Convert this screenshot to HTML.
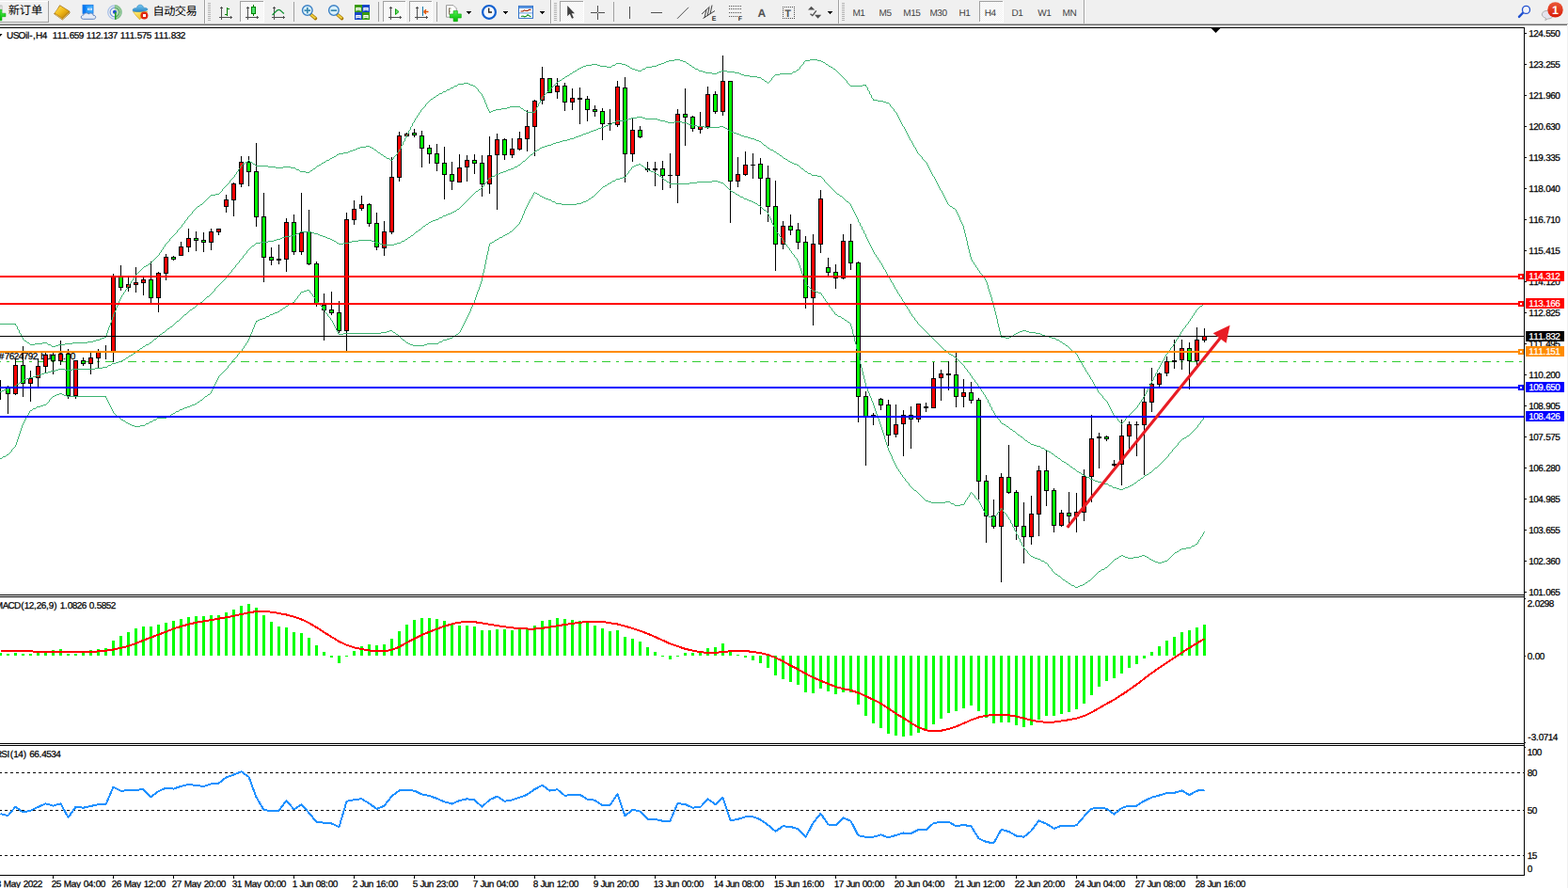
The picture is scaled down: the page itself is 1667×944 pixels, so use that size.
<!DOCTYPE html>
<html><head><meta charset="utf-8"><title>USOil H4</title>
<style>html,body{margin:0;padding:0;background:#fff;width:1667px;height:944px;overflow:hidden;font-family:"Liberation Sans",sans-serif}</style>
</head><body>
<svg width="1667" height="944" viewBox="0 0 1667 944" style="position:absolute;left:0;top:0;font-family:'Liberation Sans',sans-serif;text-rendering:geometricPrecision">
<rect x="0" y="0" width="1667" height="944" fill="#fff"/>
<g id="toolbar">
<defs>
<pattern id="chk" width="2" height="2" patternUnits="userSpaceOnUse"><rect width="2" height="2" fill="#f0f0f0"/><rect width="1" height="1" fill="#fff"/><rect x="1" y="1" width="1" height="1" fill="#fff"/></pattern>
<linearGradient id="gold" x1="0" y1="0" x2="1" y2="1"><stop offset="0" stop-color="#ffe45a"/><stop offset="0.5" stop-color="#f0b818"/><stop offset="1" stop-color="#b87808"/></linearGradient>
<linearGradient id="gplus" x1="0" y1="0" x2="0" y2="1"><stop offset="0" stop-color="#50f050"/><stop offset="1" stop-color="#00b800"/></linearGradient>
<linearGradient id="redb" x1="0" y1="0" x2="0" y2="1"><stop offset="0" stop-color="#ea5838"/><stop offset="1" stop-color="#d81c08"/></linearGradient>
<linearGradient id="bluebox" x1="0" y1="0" x2="1" y2="0"><stop offset="0" stop-color="#1088f8"/><stop offset="1" stop-color="#40b0ff"/></linearGradient>
<linearGradient id="hat" x1="0" y1="0" x2="0" y2="1"><stop offset="0" stop-color="#78c8f0"/><stop offset="1" stop-color="#2888c8"/></linearGradient>
<linearGradient id="yel" x1="0" y1="0" x2="1" y2="1"><stop offset="0" stop-color="#fff080"/><stop offset="1" stop-color="#e8b010"/></linearGradient>
<linearGradient id="cndl" x1="0" y1="0" x2="1" y2="0"><stop offset="0" stop-color="#20c040"/><stop offset="0.5" stop-color="#70f090"/><stop offset="1" stop-color="#20c040"/></linearGradient>
</defs>
<rect x="0" y="0" width="1667" height="25" fill="#f0f0f0"/>
<rect x="0" y="25" width="1667" height="1" fill="#b2b2b2"/>
<rect x="0" y="26" width="1666" height="1" fill="#696969"/>
<g shape-rendering="crispEdges">
<rect x="0" y="1" width="51" height="1" fill="#fff"/>
<rect x="51" y="1" width="1" height="23" fill="#a0a0a0"/>
<rect x="0" y="23" width="52" height="1" fill="#a0a0a0"/>
<rect x="217" y="0" width="1" height="25" fill="#a0a0a0"/>
<rect x="218" y="0" width="1" height="25" fill="#fff"/>
<rect x="221" y="3" width="3" height="1" fill="#b4b4b4"/>
<rect x="221" y="5" width="3" height="1" fill="#b4b4b4"/>
<rect x="221" y="7" width="3" height="1" fill="#b4b4b4"/>
<rect x="221" y="9" width="3" height="1" fill="#b4b4b4"/>
<rect x="221" y="11" width="3" height="1" fill="#b4b4b4"/>
<rect x="221" y="13" width="3" height="1" fill="#b4b4b4"/>
<rect x="221" y="15" width="3" height="1" fill="#b4b4b4"/>
<rect x="221" y="17" width="3" height="1" fill="#b4b4b4"/>
<rect x="221" y="19" width="3" height="1" fill="#b4b4b4"/>
<rect x="221" y="21" width="3" height="1" fill="#b4b4b4"/>
<rect x="312" y="2" width="1" height="21" fill="#a0a0a0"/>
<rect x="402" y="2" width="1" height="21" fill="#a0a0a0"/>
<rect x="464" y="2" width="1" height="21" fill="#a0a0a0"/>
<rect x="585" y="0" width="1" height="25" fill="#a0a0a0"/>
<rect x="586" y="0" width="1" height="25" fill="#fff"/>
<rect x="589" y="3" width="3" height="1" fill="#b4b4b4"/>
<rect x="589" y="5" width="3" height="1" fill="#b4b4b4"/>
<rect x="589" y="7" width="3" height="1" fill="#b4b4b4"/>
<rect x="589" y="9" width="3" height="1" fill="#b4b4b4"/>
<rect x="589" y="11" width="3" height="1" fill="#b4b4b4"/>
<rect x="589" y="13" width="3" height="1" fill="#b4b4b4"/>
<rect x="589" y="15" width="3" height="1" fill="#b4b4b4"/>
<rect x="589" y="17" width="3" height="1" fill="#b4b4b4"/>
<rect x="589" y="19" width="3" height="1" fill="#b4b4b4"/>
<rect x="589" y="21" width="3" height="1" fill="#b4b4b4"/>
<rect x="652" y="2" width="1" height="21" fill="#a0a0a0"/>
<rect x="891" y="0" width="1" height="25" fill="#a0a0a0"/>
<rect x="892" y="0" width="1" height="25" fill="#fff"/>
<rect x="895" y="3" width="3" height="1" fill="#b4b4b4"/>
<rect x="895" y="5" width="3" height="1" fill="#b4b4b4"/>
<rect x="895" y="7" width="3" height="1" fill="#b4b4b4"/>
<rect x="895" y="9" width="3" height="1" fill="#b4b4b4"/>
<rect x="895" y="11" width="3" height="1" fill="#b4b4b4"/>
<rect x="895" y="13" width="3" height="1" fill="#b4b4b4"/>
<rect x="895" y="15" width="3" height="1" fill="#b4b4b4"/>
<rect x="895" y="17" width="3" height="1" fill="#b4b4b4"/>
<rect x="895" y="19" width="3" height="1" fill="#b4b4b4"/>
<rect x="895" y="21" width="3" height="1" fill="#b4b4b4"/>
<rect x="1152" y="0" width="1" height="25" fill="#a0a0a0"/>
<rect x="1153" y="0" width="1" height="25" fill="#fff"/>
<rect x="255" y="1" width="26" height="23" fill="url(#chk)"/>
<rect x="255" y="1" width="26" height="1" fill="#a0a0a0"/>
<rect x="255" y="1" width="1" height="23" fill="#a0a0a0"/>
<rect x="255" y="23" width="26" height="1" fill="#fff"/>
<rect x="280" y="1" width="1" height="23" fill="#fff"/>
<rect x="407" y="1" width="25" height="23" fill="url(#chk)"/>
<rect x="407" y="1" width="25" height="1" fill="#a0a0a0"/>
<rect x="407" y="1" width="1" height="23" fill="#a0a0a0"/>
<rect x="407" y="23" width="25" height="1" fill="#fff"/>
<rect x="431" y="1" width="1" height="23" fill="#fff"/>
<rect x="435" y="1" width="25" height="23" fill="url(#chk)"/>
<rect x="435" y="1" width="25" height="1" fill="#a0a0a0"/>
<rect x="435" y="1" width="1" height="23" fill="#a0a0a0"/>
<rect x="435" y="23" width="25" height="1" fill="#fff"/>
<rect x="459" y="1" width="1" height="23" fill="#fff"/>
<rect x="595" y="1" width="26" height="23" fill="url(#chk)"/>
<rect x="595" y="1" width="26" height="1" fill="#a0a0a0"/>
<rect x="595" y="1" width="1" height="23" fill="#a0a0a0"/>
<rect x="595" y="23" width="26" height="1" fill="#fff"/>
<rect x="620" y="1" width="1" height="23" fill="#fff"/>
<rect x="1041" y="1" width="26" height="23" fill="url(#chk)"/>
<rect x="1041" y="1" width="26" height="1" fill="#a0a0a0"/>
<rect x="1041" y="1" width="1" height="23" fill="#a0a0a0"/>
<rect x="1041" y="23" width="26" height="1" fill="#fff"/>
<rect x="1066" y="1" width="1" height="23" fill="#fff"/>
<rect x="496" y="12" width="5" height="1" fill="#000"/><rect x="497" y="13" width="3" height="1" fill="#000"/><rect x="498" y="14" width="1" height="1" fill="#000"/>
<rect x="535" y="12" width="5" height="1" fill="#000"/><rect x="536" y="13" width="3" height="1" fill="#000"/><rect x="537" y="14" width="1" height="1" fill="#000"/>
<rect x="574" y="12" width="5" height="1" fill="#000"/><rect x="575" y="13" width="3" height="1" fill="#000"/><rect x="576" y="14" width="1" height="1" fill="#000"/>
<rect x="880" y="12" width="5" height="1" fill="#000"/><rect x="881" y="13" width="3" height="1" fill="#000"/><rect x="882" y="14" width="1" height="1" fill="#000"/>
<rect x="235" y="7" width="1" height="14" fill="#505050"/>
<rect x="234" y="8" width="3" height="1" fill="#505050"/>
<rect x="233" y="18" width="14" height="1" fill="#505050"/>
<rect x="245" y="17" width="1" height="3" fill="#505050"/>
<rect x="263" y="7" width="1" height="14" fill="#505050"/>
<rect x="262" y="8" width="3" height="1" fill="#505050"/>
<rect x="261" y="18" width="14" height="1" fill="#505050"/>
<rect x="273" y="17" width="1" height="3" fill="#505050"/>
<rect x="291" y="7" width="1" height="14" fill="#505050"/>
<rect x="290" y="8" width="3" height="1" fill="#505050"/>
<rect x="289" y="18" width="14" height="1" fill="#505050"/>
<rect x="301" y="17" width="1" height="3" fill="#505050"/>
<rect x="415" y="7" width="1" height="14" fill="#505050"/>
<rect x="414" y="8" width="3" height="1" fill="#505050"/>
<rect x="413" y="18" width="14" height="1" fill="#505050"/>
<rect x="425" y="17" width="1" height="3" fill="#505050"/>
<rect x="443" y="7" width="1" height="14" fill="#505050"/>
<rect x="442" y="8" width="3" height="1" fill="#505050"/>
<rect x="441" y="18" width="14" height="1" fill="#505050"/>
<rect x="453" y="17" width="1" height="3" fill="#505050"/>
<rect x="241" y="8" width="1" height="9" fill="#008000"/><rect x="241" y="9" width="3" height="1" fill="#008000"/><rect x="239" y="15" width="3" height="1" fill="#008000"/>
<rect x="269" y="5" width="1" height="12" fill="#008000"/><rect x="267" y="7" width="5" height="8" fill="#008000"/><rect x="268" y="8" width="3" height="6" fill="#50e070"/>
<rect x="449" y="7" width="1" height="10" fill="#1878a8"/>
<rect x="669" y="7" width="1" height="13" fill="#505050"/>
<rect x="692" y="13" width="12" height="1" fill="#505050"/>
<rect x="635" y="6" width="1" height="15" fill="#505050"/><rect x="628" y="13" width="15" height="1" fill="#505050"/><rect x="635" y="13" width="1" height="1" fill="#f0f0f0"/>
<rect x="775" y="6" width="1" height="1" fill="#505050"/>
<rect x="777" y="6" width="1" height="1" fill="#505050"/>
<rect x="779" y="6" width="1" height="1" fill="#505050"/>
<rect x="781" y="6" width="1" height="1" fill="#505050"/>
<rect x="783" y="6" width="1" height="1" fill="#505050"/>
<rect x="785" y="6" width="1" height="1" fill="#505050"/>
<rect x="787" y="6" width="1" height="1" fill="#505050"/>
<rect x="775" y="9" width="1" height="1" fill="#505050"/>
<rect x="777" y="9" width="1" height="1" fill="#505050"/>
<rect x="779" y="9" width="1" height="1" fill="#505050"/>
<rect x="781" y="9" width="1" height="1" fill="#505050"/>
<rect x="783" y="9" width="1" height="1" fill="#505050"/>
<rect x="785" y="9" width="1" height="1" fill="#505050"/>
<rect x="787" y="9" width="1" height="1" fill="#505050"/>
<rect x="775" y="13" width="1" height="1" fill="#505050"/>
<rect x="777" y="13" width="1" height="1" fill="#505050"/>
<rect x="779" y="13" width="1" height="1" fill="#505050"/>
<rect x="781" y="13" width="1" height="1" fill="#505050"/>
<rect x="783" y="13" width="1" height="1" fill="#505050"/>
<rect x="785" y="13" width="1" height="1" fill="#505050"/>
<rect x="787" y="13" width="1" height="1" fill="#505050"/>
<rect x="775" y="17" width="1" height="1" fill="#505050"/>
<rect x="777" y="17" width="1" height="1" fill="#505050"/>
<rect x="779" y="17" width="1" height="1" fill="#505050"/>
<rect x="781" y="17" width="1" height="1" fill="#505050"/>
<rect x="783" y="17" width="1" height="1" fill="#505050"/>
<rect x="832" y="7" width="1" height="1" fill="#505050"/><rect x="832" y="19" width="1" height="1" fill="#505050"/>
<rect x="834" y="7" width="1" height="1" fill="#505050"/><rect x="834" y="19" width="1" height="1" fill="#505050"/>
<rect x="836" y="7" width="1" height="1" fill="#505050"/><rect x="836" y="19" width="1" height="1" fill="#505050"/>
<rect x="838" y="7" width="1" height="1" fill="#505050"/><rect x="838" y="19" width="1" height="1" fill="#505050"/>
<rect x="840" y="7" width="1" height="1" fill="#505050"/><rect x="840" y="19" width="1" height="1" fill="#505050"/>
<rect x="842" y="7" width="1" height="1" fill="#505050"/><rect x="842" y="19" width="1" height="1" fill="#505050"/>
<rect x="844" y="7" width="1" height="1" fill="#505050"/><rect x="844" y="19" width="1" height="1" fill="#505050"/>
<rect x="832" y="7" width="1" height="1" fill="#505050"/><rect x="844" y="7" width="1" height="1" fill="#505050"/>
<rect x="832" y="9" width="1" height="1" fill="#505050"/><rect x="844" y="9" width="1" height="1" fill="#505050"/>
<rect x="832" y="11" width="1" height="1" fill="#505050"/><rect x="844" y="11" width="1" height="1" fill="#505050"/>
<rect x="832" y="13" width="1" height="1" fill="#505050"/><rect x="844" y="13" width="1" height="1" fill="#505050"/>
<rect x="832" y="15" width="1" height="1" fill="#505050"/><rect x="844" y="15" width="1" height="1" fill="#505050"/>
<rect x="832" y="17" width="1" height="1" fill="#505050"/><rect x="844" y="17" width="1" height="1" fill="#505050"/>
<rect x="832" y="19" width="1" height="1" fill="#505050"/><rect x="844" y="19" width="1" height="1" fill="#505050"/>
</g>
<path d="M289.5,16 C292,14 294,10.3 296.5,10.3 C298.5,10.3 300,13.5 302,14.3" fill="none" stroke="#109030" stroke-width="1.3"/>
<polygon points="420.5,9.5 420.5,15.5 424,12.5" fill="#70e070" stroke="#10a010" stroke-width="1"/>
<path d="M450.5,12.5 L455.5,12.5 M450.5,12.5 L453,10.3 M450.5,12.5 L453,14.7" stroke="#e05000" stroke-width="1.3" fill="none"/>
<line x1="720" y1="19.8" x2="732" y2="7.8" stroke="#505050" stroke-width="1"/>
<g stroke="#404040" stroke-width="1" fill="none"><line x1="746" y1="15" x2="754.5" y2="7"/><line x1="747.5" y1="19.5" x2="760" y2="11.5"/><line x1="749" y1="19" x2="751" y2="10"/><line x1="752" y1="17" x2="754" y2="8"/><line x1="755" y1="15" x2="757" y2="5.5"/></g>
<text x="756.8" y="22" font-size="7" font-weight="bold" fill="#303030">E</text>
<text x="784.8" y="22" font-size="7" font-weight="bold" fill="#303030">F</text>
<text x="805.5" y="18" font-size="12" font-weight="bold" fill="#555">A</text>
<text x="834.2" y="18" font-size="11" font-weight="bold" fill="#555">T</text>
<polygon points="862.5,6.8 866.3,10.6 859,10.6" fill="#505050"/><polygon points="866,15.8 873.2,15.8 869.6,19.8" fill="#505050"/><path d="M861.5,14.7 L863.8,16.6 L867.8,11.4" stroke="#505050" stroke-width="1.4" fill="none"/>
<path d="M603.2,6 L603.2,17.2 L605.8,14.8 L608,19.8 L609.9,19 L607.7,14.2 L611,14.2 Z" fill="#404040"/>
<text x="906.5" y="17" font-size="10" fill="#404040" letter-spacing="-0.5">M1</text>
<text x="934.6" y="17" font-size="10" fill="#404040" letter-spacing="-0.5">M5</text>
<text x="960.3" y="17" font-size="10" fill="#404040" letter-spacing="-0.5">M15</text>
<text x="988.5" y="17" font-size="10" fill="#404040" letter-spacing="-0.5">M30</text>
<text x="1019.5" y="17" font-size="10" fill="#404040" letter-spacing="-0.5">H1</text>
<text x="1046.8" y="17" font-size="10" fill="#404040" letter-spacing="-0.5">H4</text>
<text x="1075.6" y="17" font-size="10" fill="#404040" letter-spacing="-0.5">D1</text>
<text x="1103.2" y="17" font-size="10" fill="#404040" letter-spacing="-0.5">W1</text>
<text x="1129.6" y="17" font-size="10" fill="#404040" letter-spacing="-0.5">MN</text>
<rect x="0" y="6" width="2" height="5" fill="#fff" stroke="#909090" stroke-width="0.6"/>
<path d="M0,10.3 H2 V14.2 H6 V17.7 H2 V21.8 H0 Z" fill="url(#gplus)" stroke="#00a000" stroke-width="0.5"/>
<path d="M63.6,5.7 L73.8,12 L74.1,13.9 L66.4,21 L57.6,14.7 Q60.6,11 63.6,5.7 Z" fill="#b8820c" stroke="#9a6408" stroke-width="0.7" stroke-linejoin="round"/>
<path d="M58.4,15 L66.4,20.4 L73.7,13.4" fill="none" stroke="#e8cf90" stroke-width="0.8"/>
<path d="M63.8,6.3 L73.3,12 L66.2,18.9 L58.3,13.7 Q61,10.6 63.8,6.3 Z" fill="url(#gold)"/>
<rect x="88" y="5.3" width="11" height="9" fill="url(#bluebox)" stroke="#1070e0" stroke-width="0.8"/>
<polygon points="88,5.3 91.3,6.6 91.3,14.3 88,14.3" fill="#0a78f0"/><rect x="93" y="8.6" width="5" height="2.2" fill="#e8f4ff"/><rect x="93.8" y="9.4" width="3.4" height="0.8" fill="#70b0f0"/>
<path d="M88.5,20.3 C85.5,20.3 85.5,16 88.8,16 C89.2,13.6 93,13 94.2,15 C96,13.2 99,14 99,16.2 C102.5,16 102.5,20.3 99.5,20.3 Z" fill="#e6ecf6" stroke="#5078b8" stroke-width="0.9"/>
<g fill="none"><circle cx="121.9" cy="13" r="7.2" stroke="#a8c0e8" stroke-width="1.2"/><circle cx="121.9" cy="13" r="4.8" stroke="#7098e0" stroke-width="1.2"/><path d="M121.9,5.8 A7.2,7.2 0 0 1 123,20.1" stroke="#90c890" stroke-width="1.4"/><path d="M121.9,8.2 A4.8,4.8 0 0 1 123,17.7" stroke="#70b870" stroke-width="1.4"/></g>
<path d="M121.9,13 L121.9,5.8 A7.2,7.2 0 0 1 122.9,20.1 Z" fill="#58b058" opacity="0.35"/>
<circle cx="121.9" cy="12.8" r="2" fill="#2050d0"/><rect x="122" y="13" width="1.5" height="7.8" fill="#20a020"/>
<polygon points="141.5,12.5 156.8,12.5 152,17 148.5,20.8 145,17" fill="url(#yel)" stroke="#d0a010" stroke-width="0.6"/>
<path d="M141,11 C141,8.5 144.5,8.6 145.5,8.4 C146,4 152,4 152.5,8.2 C154,8.2 157,8.5 157,10 C157,12.5 141,13.5 141,11 Z" fill="url(#hat)" stroke="#3088c0" stroke-width="0.6"/>
<circle cx="153.4" cy="16.5" r="4" fill="#e02810"/><rect x="152" y="15" width="3" height="3" fill="#fff"/>
<line x1="330.6" y1="15.5" x2="335.40000000000003" y2="19.6" stroke="#a87800" stroke-width="3.6" stroke-linecap="round"/>
<line x1="330.6" y1="15.5" x2="335.40000000000003" y2="19.6" stroke="#f0d040" stroke-width="2"/>
<circle cx="326.8" cy="11.1" r="5.3" fill="#d8f0fb" stroke="#3a7fc4" stroke-width="1.4"/>
<rect x="323.6" y="10.3" width="6.4" height="1.7" fill="#3a88b0"/>
<rect x="325.95" y="7.9" width="1.7" height="6.4" fill="#3a88b0"/>
<line x1="358.7" y1="15.5" x2="363.5" y2="19.6" stroke="#a87800" stroke-width="3.6" stroke-linecap="round"/>
<line x1="358.7" y1="15.5" x2="363.5" y2="19.6" stroke="#f0d040" stroke-width="2"/>
<circle cx="354.9" cy="11.1" r="5.3" fill="#d8f0fb" stroke="#3a7fc4" stroke-width="1.4"/>
<rect x="351.7" y="10.3" width="6.4" height="1.7" fill="#3a88b0"/>
<rect x="377" y="5" width="8" height="8" fill="#3a9a10"/>
<rect x="378.3" y="8" width="5.4" height="3.6" fill="#fff"/><rect x="379.3" y="9.2" width="3.4" height="1" fill="#3a9a10" opacity="0.55"/><rect x="379.3" y="11" width="3.4" height="1" fill="#3a9a10"/>
<rect x="385" y="5" width="8" height="8" fill="#1848c8"/>
<rect x="386.3" y="8" width="5.4" height="3.6" fill="#fff"/><rect x="387.3" y="9.2" width="3.4" height="1" fill="#1848c8" opacity="0.55"/><rect x="387.3" y="11" width="3.4" height="1" fill="#1848c8"/>
<rect x="377" y="13" width="8" height="8" fill="#1848c8"/>
<rect x="378.3" y="16" width="5.4" height="3.6" fill="#fff"/><rect x="379.3" y="17.2" width="3.4" height="1" fill="#1848c8" opacity="0.55"/><rect x="379.3" y="19" width="3.4" height="1" fill="#1848c8"/>
<rect x="385" y="13" width="8" height="8" fill="#3a9a10"/>
<rect x="386.3" y="16" width="5.4" height="3.6" fill="#fff"/><rect x="387.3" y="17.2" width="3.4" height="1" fill="#3a9a10" opacity="0.55"/><rect x="387.3" y="19" width="3.4" height="1" fill="#3a9a10"/>
<path d="M474.5,5.6 H482 L485.2,8.8 V18.2 H474.5 Z" fill="#fff" stroke="#909090" stroke-width="0.9"/>
<path d="M477.5,8.5 V15.5 M477.5,9 H479.5 M477.5,12 H479" stroke="#605030" stroke-width="0.8" fill="none"/>
<path d="M482.1,11.6 H486.4 V14.9 H490.3 V19 H486.4 V22.7 H482.1 V19 H478.3 V14.9 H482.1 Z" fill="url(#gplus)" stroke="#00a000" stroke-width="0.6"/>
<circle cx="520" cy="12.9" r="6.9" fill="#f4f8ff" stroke="#1060d0" stroke-width="2.2"/>
<path d="M519.7,8.5 V13 H523" stroke="#202020" stroke-width="1.3" fill="none"/>
<rect x="551.5" y="6.4" width="15" height="13" fill="#fff" stroke="#3070c8" stroke-width="1"/>
<rect x="552" y="6.9" width="14" height="2" fill="#5090e0"/><rect x="552" y="13.4" width="14" height="1" fill="#6098e0"/>
<polyline points="553.5,12 556,12 557.5,10.8 559,11.5 561,11.5 562.5,10.4 564.5,10.4" fill="none" stroke="#a02000" stroke-width="1.1"/>
<polyline points="554,17.5 556,17 557.5,17.8 559.5,17.3 561,15.8 562.5,16.8 564.5,17.8" fill="none" stroke="#109020" stroke-width="1.1"/>
<line x1="1619.2" y1="13.5" x2="1615" y2="17.9" stroke="#2050d0" stroke-width="2.4" stroke-linecap="round"/>
<circle cx="1622.5" cy="10.4" r="4" fill="#f4f4f8" stroke="#2050d0" stroke-width="1.3"/>
<path d="M1642.8,21.5 L1643.6,19.4 C1637,17.5 1638.5,11.3 1645.4,11.3 C1652.5,11.3 1653.8,19.8 1645.5,20 Z" fill="#e4e4ee" stroke="#a8a8a8" stroke-width="0.9"/>
<circle cx="1653.5" cy="10.4" r="8.2" fill="url(#redb)"/>
<text x="1650" y="15" font-size="12.5" font-weight="bold" fill="#fff">1</text>
<text x="8.7 20.8 32.9" y="15.3" font-size="12.2" fill="#000" font-family="'Liberation Sans','Noto Sans CJK SC',sans-serif">新订单</text>
<text x="162.5 174.15 185.8 197.45" y="16.1" font-size="12.2" fill="#000" font-family="'Liberation Sans','Noto Sans CJK SC',sans-serif">自动交易</text>
</g>
<g shape-rendering="crispEdges">
<rect x="0" y="29" width="1621" height="1" fill="#000"/>
<rect x="1620" y="29" width="1" height="902" fill="#000"/>
<rect x="0" y="632" width="1621" height="1" fill="#000"/>
<rect x="0" y="634" width="1621" height="1" fill="#000"/>
<rect x="0" y="790" width="1621" height="1" fill="#000"/>
<rect x="0" y="792" width="1621" height="1" fill="#000"/>
<rect x="0" y="930" width="1621" height="1" fill="#000"/>
<rect x="1666" y="27" width="1" height="917" fill="#f0f0f0"/>
</g>
<defs><clipPath id="cm"><rect x="0" y="30" width="1620" height="602"/></clipPath></defs>
<g clip-path="url(#cm)">
<line x1="0" y1="384.5" x2="1620" y2="384.5" stroke="#32cd32" stroke-width="1" stroke-dasharray="9,6,3,6" stroke-dashoffset="8" shape-rendering="crispEdges"/>
<text x="-1.28 4.72 9.72 14.72 19.72 24.72 29.72 34.72 40.11 43.22 48.72 54.00 59.11 61.72 67.11 69.72 74.72" y="382" font-size="10" fill="#000" stroke="#000" stroke-width="0.25" xml:space="preserve">#7624792 buy 0.30</text>
<g shape-rendering="crispEdges">
<rect x="0" y="404" width="1" height="21" fill="#000"/>
<rect x="8" y="410" width="1" height="30" fill="#000"/>
<rect x="6" y="413" width="5" height="6" fill="#000"/>
<rect x="7" y="414" width="3" height="4" fill="#00ff00"/>
<rect x="16" y="382" width="1" height="38" fill="#000"/>
<rect x="14" y="388" width="5" height="31" fill="#000"/>
<rect x="15" y="389" width="3" height="29" fill="#ff0000"/>
<rect x="24" y="368" width="1" height="54" fill="#000"/>
<rect x="22" y="388" width="5" height="20" fill="#000"/>
<rect x="23" y="389" width="3" height="18" fill="#00ff00"/>
<rect x="32" y="394" width="1" height="33" fill="#000"/>
<rect x="30" y="402" width="5" height="6" fill="#000"/>
<rect x="31" y="403" width="3" height="4" fill="#ff0000"/>
<rect x="40" y="381" width="1" height="30" fill="#000"/>
<rect x="38" y="389" width="5" height="13" fill="#000"/>
<rect x="39" y="390" width="3" height="11" fill="#ff0000"/>
<rect x="48" y="375" width="1" height="22" fill="#000"/>
<rect x="46" y="377" width="5" height="13" fill="#000"/>
<rect x="47" y="378" width="3" height="11" fill="#ff0000"/>
<rect x="56" y="375" width="1" height="23" fill="#000"/>
<rect x="54" y="377" width="5" height="7" fill="#000"/>
<rect x="55" y="378" width="3" height="5" fill="#00ff00"/>
<rect x="64" y="362" width="1" height="26" fill="#000"/>
<rect x="62" y="376" width="5" height="8" fill="#000"/>
<rect x="63" y="377" width="3" height="6" fill="#ff0000"/>
<rect x="72" y="371" width="1" height="53" fill="#000"/>
<rect x="70" y="376" width="5" height="45" fill="#000"/>
<rect x="71" y="377" width="3" height="43" fill="#00ff00"/>
<rect x="80" y="383" width="1" height="41" fill="#000"/>
<rect x="78" y="383" width="5" height="38" fill="#000"/>
<rect x="79" y="384" width="3" height="36" fill="#ff0000"/>
<rect x="88" y="380" width="1" height="9" fill="#000"/>
<rect x="86" y="383" width="5" height="4" fill="#000"/>
<rect x="87" y="384" width="3" height="2" fill="#00ff00"/>
<rect x="96" y="375" width="1" height="23" fill="#000"/>
<rect x="94" y="380" width="5" height="7" fill="#000"/>
<rect x="95" y="381" width="3" height="5" fill="#ff0000"/>
<rect x="104" y="371" width="1" height="20" fill="#000"/>
<rect x="102" y="374" width="5" height="7" fill="#000"/>
<rect x="103" y="375" width="3" height="5" fill="#ff0000"/>
<rect x="112" y="367" width="1" height="15" fill="#000"/>
<rect x="110" y="374" width="5" height="1" fill="#000"/>
<rect x="120" y="291" width="1" height="94" fill="#000"/>
<rect x="118" y="294" width="5" height="80" fill="#000"/>
<rect x="119" y="295" width="3" height="78" fill="#ff0000"/>
<rect x="128" y="282" width="1" height="27" fill="#000"/>
<rect x="126" y="294" width="5" height="12" fill="#000"/>
<rect x="127" y="295" width="3" height="10" fill="#00ff00"/>
<rect x="136" y="295" width="1" height="15" fill="#000"/>
<rect x="134" y="302" width="5" height="4" fill="#000"/>
<rect x="135" y="303" width="3" height="2" fill="#ff0000"/>
<rect x="144" y="284" width="1" height="27" fill="#000"/>
<rect x="142" y="300" width="5" height="3" fill="#000"/>
<rect x="143" y="301" width="3" height="1" fill="#ff0000"/>
<rect x="152" y="295" width="1" height="19" fill="#000"/>
<rect x="150" y="297" width="5" height="4" fill="#000"/>
<rect x="151" y="298" width="3" height="2" fill="#ff0000"/>
<rect x="160" y="278" width="1" height="46" fill="#000"/>
<rect x="158" y="297" width="5" height="20" fill="#000"/>
<rect x="159" y="298" width="3" height="18" fill="#00ff00"/>
<rect x="168" y="289" width="1" height="43" fill="#000"/>
<rect x="166" y="290" width="5" height="27" fill="#000"/>
<rect x="167" y="291" width="3" height="25" fill="#ff0000"/>
<rect x="176" y="270" width="1" height="28" fill="#000"/>
<rect x="174" y="273" width="5" height="18" fill="#000"/>
<rect x="175" y="274" width="3" height="16" fill="#ff0000"/>
<rect x="184" y="272" width="1" height="5" fill="#000"/>
<rect x="182" y="273" width="5" height="3" fill="#000"/>
<rect x="183" y="274" width="3" height="1" fill="#00ff00"/>
<rect x="192" y="257" width="1" height="14" fill="#000"/>
<rect x="190" y="262" width="5" height="10" fill="#000"/>
<rect x="191" y="263" width="3" height="8" fill="#ff0000"/>
<rect x="200" y="243" width="1" height="25" fill="#000"/>
<rect x="198" y="253" width="5" height="10" fill="#000"/>
<rect x="199" y="254" width="3" height="8" fill="#ff0000"/>
<rect x="208" y="246" width="1" height="21" fill="#000"/>
<rect x="206" y="253" width="5" height="3" fill="#000"/>
<rect x="207" y="254" width="3" height="1" fill="#00ff00"/>
<rect x="216" y="247" width="1" height="21" fill="#000"/>
<rect x="214" y="255" width="5" height="3" fill="#000"/>
<rect x="215" y="256" width="3" height="1" fill="#00ff00"/>
<rect x="224" y="243" width="1" height="23" fill="#000"/>
<rect x="222" y="246" width="5" height="12" fill="#000"/>
<rect x="223" y="247" width="3" height="10" fill="#ff0000"/>
<rect x="232" y="243" width="1" height="7" fill="#000"/>
<rect x="230" y="243" width="5" height="4" fill="#000"/>
<rect x="231" y="244" width="3" height="2" fill="#ff0000"/>
<rect x="240" y="207" width="1" height="19" fill="#000"/>
<rect x="238" y="212" width="5" height="8" fill="#000"/>
<rect x="239" y="213" width="3" height="6" fill="#ff0000"/>
<rect x="248" y="194" width="1" height="36" fill="#000"/>
<rect x="246" y="195" width="5" height="18" fill="#000"/>
<rect x="247" y="196" width="3" height="16" fill="#ff0000"/>
<rect x="256" y="166" width="1" height="33" fill="#000"/>
<rect x="254" y="172" width="5" height="24" fill="#000"/>
<rect x="255" y="173" width="3" height="22" fill="#ff0000"/>
<rect x="264" y="166" width="1" height="32" fill="#000"/>
<rect x="262" y="172" width="5" height="11" fill="#000"/>
<rect x="263" y="173" width="3" height="9" fill="#00ff00"/>
<rect x="272" y="152" width="1" height="89" fill="#000"/>
<rect x="270" y="182" width="5" height="49" fill="#000"/>
<rect x="271" y="183" width="3" height="47" fill="#00ff00"/>
<rect x="280" y="205" width="1" height="95" fill="#000"/>
<rect x="278" y="230" width="5" height="44" fill="#000"/>
<rect x="279" y="231" width="3" height="42" fill="#00ff00"/>
<rect x="288" y="263" width="1" height="19" fill="#000"/>
<rect x="286" y="273" width="5" height="4" fill="#000"/>
<rect x="287" y="274" width="3" height="2" fill="#00ff00"/>
<rect x="296" y="260" width="1" height="21" fill="#000"/>
<rect x="294" y="275" width="5" height="2" fill="#000"/>
<rect x="304" y="232" width="1" height="57" fill="#000"/>
<rect x="302" y="236" width="5" height="40" fill="#000"/>
<rect x="303" y="237" width="3" height="38" fill="#ff0000"/>
<rect x="312" y="228" width="1" height="43" fill="#000"/>
<rect x="310" y="236" width="5" height="32" fill="#000"/>
<rect x="311" y="237" width="3" height="30" fill="#00ff00"/>
<rect x="320" y="205" width="1" height="66" fill="#000"/>
<rect x="318" y="247" width="5" height="21" fill="#000"/>
<rect x="319" y="248" width="3" height="19" fill="#ff0000"/>
<rect x="328" y="223" width="1" height="59" fill="#000"/>
<rect x="326" y="246" width="5" height="35" fill="#000"/>
<rect x="327" y="247" width="3" height="33" fill="#00ff00"/>
<rect x="336" y="278" width="1" height="48" fill="#000"/>
<rect x="334" y="280" width="5" height="44" fill="#000"/>
<rect x="335" y="281" width="3" height="42" fill="#00ff00"/>
<rect x="344" y="312" width="1" height="50" fill="#000"/>
<rect x="342" y="324" width="5" height="6" fill="#000"/>
<rect x="343" y="325" width="3" height="4" fill="#00ff00"/>
<rect x="352" y="310" width="1" height="25" fill="#000"/>
<rect x="350" y="329" width="5" height="4" fill="#000"/>
<rect x="351" y="330" width="3" height="2" fill="#00ff00"/>
<rect x="360" y="320" width="1" height="34" fill="#000"/>
<rect x="358" y="332" width="5" height="20" fill="#000"/>
<rect x="359" y="333" width="3" height="18" fill="#00ff00"/>
<rect x="368" y="226" width="1" height="147" fill="#000"/>
<rect x="366" y="233" width="5" height="119" fill="#000"/>
<rect x="367" y="234" width="3" height="117" fill="#ff0000"/>
<rect x="376" y="213" width="1" height="26" fill="#000"/>
<rect x="374" y="222" width="5" height="12" fill="#000"/>
<rect x="375" y="223" width="3" height="10" fill="#ff0000"/>
<rect x="384" y="208" width="1" height="16" fill="#000"/>
<rect x="382" y="217" width="5" height="5" fill="#000"/>
<rect x="383" y="218" width="3" height="3" fill="#ff0000"/>
<rect x="392" y="216" width="1" height="25" fill="#000"/>
<rect x="390" y="217" width="5" height="21" fill="#000"/>
<rect x="391" y="218" width="3" height="19" fill="#00ff00"/>
<rect x="400" y="226" width="1" height="40" fill="#000"/>
<rect x="398" y="237" width="5" height="26" fill="#000"/>
<rect x="399" y="238" width="3" height="24" fill="#00ff00"/>
<rect x="408" y="235" width="1" height="37" fill="#000"/>
<rect x="406" y="246" width="5" height="18" fill="#000"/>
<rect x="407" y="247" width="3" height="16" fill="#ff0000"/>
<rect x="416" y="167" width="1" height="82" fill="#000"/>
<rect x="414" y="188" width="5" height="59" fill="#000"/>
<rect x="415" y="189" width="3" height="57" fill="#ff0000"/>
<rect x="424" y="140" width="1" height="53" fill="#000"/>
<rect x="422" y="144" width="5" height="45" fill="#000"/>
<rect x="423" y="145" width="3" height="43" fill="#ff0000"/>
<rect x="432" y="141" width="1" height="4" fill="#000"/>
<rect x="430" y="142" width="5" height="3" fill="#000"/>
<rect x="431" y="143" width="3" height="1" fill="#ff0000"/>
<rect x="440" y="137" width="1" height="9" fill="#000"/>
<rect x="438" y="141" width="5" height="3" fill="#000"/>
<rect x="439" y="142" width="3" height="1" fill="#00ff00"/>
<rect x="448" y="139" width="1" height="39" fill="#000"/>
<rect x="446" y="144" width="5" height="14" fill="#000"/>
<rect x="447" y="145" width="3" height="12" fill="#00ff00"/>
<rect x="456" y="154" width="1" height="20" fill="#000"/>
<rect x="454" y="157" width="5" height="7" fill="#000"/>
<rect x="455" y="158" width="3" height="5" fill="#00ff00"/>
<rect x="464" y="153" width="1" height="29" fill="#000"/>
<rect x="462" y="163" width="5" height="11" fill="#000"/>
<rect x="463" y="164" width="3" height="9" fill="#00ff00"/>
<rect x="472" y="156" width="1" height="56" fill="#000"/>
<rect x="470" y="173" width="5" height="13" fill="#000"/>
<rect x="471" y="174" width="3" height="11" fill="#00ff00"/>
<rect x="480" y="172" width="1" height="30" fill="#000"/>
<rect x="478" y="185" width="5" height="8" fill="#000"/>
<rect x="479" y="186" width="3" height="6" fill="#00ff00"/>
<rect x="488" y="164" width="1" height="30" fill="#000"/>
<rect x="486" y="178" width="5" height="16" fill="#000"/>
<rect x="487" y="179" width="3" height="14" fill="#ff0000"/>
<rect x="496" y="165" width="1" height="28" fill="#000"/>
<rect x="494" y="170" width="5" height="8" fill="#000"/>
<rect x="495" y="171" width="3" height="6" fill="#ff0000"/>
<rect x="504" y="164" width="1" height="21" fill="#000"/>
<rect x="502" y="170" width="5" height="4" fill="#000"/>
<rect x="503" y="171" width="3" height="2" fill="#00ff00"/>
<rect x="512" y="165" width="1" height="44" fill="#000"/>
<rect x="510" y="173" width="5" height="23" fill="#000"/>
<rect x="511" y="174" width="3" height="21" fill="#00ff00"/>
<rect x="520" y="145" width="1" height="61" fill="#000"/>
<rect x="518" y="165" width="5" height="31" fill="#000"/>
<rect x="519" y="166" width="3" height="29" fill="#ff0000"/>
<rect x="528" y="142" width="1" height="81" fill="#000"/>
<rect x="526" y="148" width="5" height="17" fill="#000"/>
<rect x="527" y="149" width="3" height="15" fill="#ff0000"/>
<rect x="536" y="147" width="1" height="23" fill="#000"/>
<rect x="534" y="148" width="5" height="17" fill="#000"/>
<rect x="535" y="149" width="3" height="15" fill="#00ff00"/>
<rect x="544" y="147" width="1" height="21" fill="#000"/>
<rect x="542" y="158" width="5" height="7" fill="#000"/>
<rect x="543" y="159" width="3" height="5" fill="#ff0000"/>
<rect x="552" y="140" width="1" height="20" fill="#000"/>
<rect x="550" y="147" width="5" height="12" fill="#000"/>
<rect x="551" y="148" width="3" height="10" fill="#ff0000"/>
<rect x="560" y="117" width="1" height="44" fill="#000"/>
<rect x="558" y="134" width="5" height="14" fill="#000"/>
<rect x="559" y="135" width="3" height="12" fill="#ff0000"/>
<rect x="568" y="106" width="1" height="60" fill="#000"/>
<rect x="566" y="107" width="5" height="28" fill="#000"/>
<rect x="567" y="108" width="3" height="26" fill="#ff0000"/>
<rect x="576" y="71" width="1" height="40" fill="#000"/>
<rect x="574" y="83" width="5" height="24" fill="#000"/>
<rect x="575" y="84" width="3" height="22" fill="#ff0000"/>
<rect x="584" y="83" width="1" height="15" fill="#000"/>
<rect x="582" y="83" width="5" height="16" fill="#000"/>
<rect x="583" y="84" width="3" height="14" fill="#00ff00"/>
<rect x="592" y="83" width="1" height="22" fill="#000"/>
<rect x="590" y="91" width="5" height="7" fill="#000"/>
<rect x="591" y="92" width="3" height="5" fill="#ff0000"/>
<rect x="600" y="88" width="1" height="30" fill="#000"/>
<rect x="598" y="91" width="5" height="18" fill="#000"/>
<rect x="599" y="92" width="3" height="16" fill="#00ff00"/>
<rect x="608" y="94" width="1" height="23" fill="#000"/>
<rect x="606" y="104" width="5" height="5" fill="#000"/>
<rect x="607" y="105" width="3" height="3" fill="#ff0000"/>
<rect x="616" y="93" width="1" height="39" fill="#000"/>
<rect x="614" y="104" width="5" height="2" fill="#000"/>
<rect x="624" y="102" width="1" height="27" fill="#000"/>
<rect x="622" y="105" width="5" height="12" fill="#000"/>
<rect x="623" y="106" width="3" height="10" fill="#00ff00"/>
<rect x="632" y="112" width="1" height="12" fill="#000"/>
<rect x="630" y="116" width="5" height="3" fill="#000"/>
<rect x="631" y="117" width="3" height="1" fill="#00ff00"/>
<rect x="640" y="115" width="1" height="34" fill="#000"/>
<rect x="638" y="118" width="5" height="14" fill="#000"/>
<rect x="639" y="119" width="3" height="12" fill="#00ff00"/>
<rect x="648" y="116" width="1" height="23" fill="#000"/>
<rect x="646" y="131" width="5" height="1" fill="#000"/>
<rect x="656" y="86" width="1" height="49" fill="#000"/>
<rect x="654" y="92" width="5" height="41" fill="#000"/>
<rect x="655" y="93" width="3" height="39" fill="#ff0000"/>
<rect x="664" y="82" width="1" height="112" fill="#000"/>
<rect x="662" y="93" width="5" height="71" fill="#000"/>
<rect x="663" y="94" width="3" height="69" fill="#00ff00"/>
<rect x="672" y="126" width="1" height="46" fill="#000"/>
<rect x="670" y="138" width="5" height="26" fill="#000"/>
<rect x="671" y="139" width="3" height="24" fill="#ff0000"/>
<rect x="680" y="134" width="1" height="13" fill="#000"/>
<rect x="678" y="138" width="5" height="8" fill="#000"/>
<rect x="679" y="139" width="3" height="6" fill="#00ff00"/>
<rect x="688" y="172" width="1" height="11" fill="#000"/>
<rect x="686" y="179" width="5" height="2" fill="#000"/>
<rect x="696" y="172" width="1" height="26" fill="#000"/>
<rect x="694" y="179" width="5" height="2" fill="#000"/>
<rect x="704" y="171" width="1" height="31" fill="#000"/>
<rect x="702" y="179" width="5" height="8" fill="#000"/>
<rect x="703" y="180" width="3" height="6" fill="#00ff00"/>
<rect x="712" y="163" width="1" height="37" fill="#000"/>
<rect x="710" y="186" width="5" height="1" fill="#000"/>
<rect x="720" y="116" width="1" height="100" fill="#000"/>
<rect x="718" y="121" width="5" height="66" fill="#000"/>
<rect x="719" y="122" width="3" height="64" fill="#ff0000"/>
<rect x="728" y="94" width="1" height="61" fill="#000"/>
<rect x="726" y="121" width="5" height="4" fill="#000"/>
<rect x="727" y="122" width="3" height="2" fill="#00ff00"/>
<rect x="736" y="123" width="1" height="17" fill="#000"/>
<rect x="734" y="124" width="5" height="13" fill="#000"/>
<rect x="735" y="125" width="3" height="11" fill="#00ff00"/>
<rect x="744" y="119" width="1" height="23" fill="#000"/>
<rect x="742" y="134" width="5" height="4" fill="#000"/>
<rect x="743" y="135" width="3" height="2" fill="#ff0000"/>
<rect x="752" y="92" width="1" height="45" fill="#000"/>
<rect x="750" y="100" width="5" height="35" fill="#000"/>
<rect x="751" y="101" width="3" height="33" fill="#ff0000"/>
<rect x="760" y="97" width="1" height="24" fill="#000"/>
<rect x="758" y="100" width="5" height="19" fill="#000"/>
<rect x="759" y="101" width="3" height="17" fill="#00ff00"/>
<rect x="768" y="59" width="1" height="64" fill="#000"/>
<rect x="766" y="86" width="5" height="33" fill="#000"/>
<rect x="767" y="87" width="3" height="31" fill="#ff0000"/>
<rect x="776" y="86" width="1" height="151" fill="#000"/>
<rect x="774" y="86" width="5" height="107" fill="#000"/>
<rect x="775" y="87" width="3" height="105" fill="#00ff00"/>
<rect x="784" y="167" width="1" height="32" fill="#000"/>
<rect x="782" y="185" width="5" height="8" fill="#000"/>
<rect x="783" y="186" width="3" height="6" fill="#ff0000"/>
<rect x="792" y="161" width="1" height="26" fill="#000"/>
<rect x="790" y="175" width="5" height="11" fill="#000"/>
<rect x="791" y="176" width="3" height="9" fill="#ff0000"/>
<rect x="800" y="163" width="1" height="27" fill="#000"/>
<rect x="798" y="175" width="5" height="1" fill="#000"/>
<rect x="808" y="168" width="1" height="60" fill="#000"/>
<rect x="806" y="174" width="5" height="16" fill="#000"/>
<rect x="807" y="175" width="3" height="14" fill="#00ff00"/>
<rect x="816" y="176" width="1" height="60" fill="#000"/>
<rect x="814" y="189" width="5" height="31" fill="#000"/>
<rect x="815" y="190" width="3" height="29" fill="#00ff00"/>
<rect x="824" y="192" width="1" height="96" fill="#000"/>
<rect x="822" y="219" width="5" height="41" fill="#000"/>
<rect x="823" y="220" width="3" height="39" fill="#00ff00"/>
<rect x="832" y="235" width="1" height="30" fill="#000"/>
<rect x="830" y="240" width="5" height="20" fill="#000"/>
<rect x="831" y="241" width="3" height="18" fill="#ff0000"/>
<rect x="840" y="228" width="1" height="22" fill="#000"/>
<rect x="838" y="240" width="5" height="5" fill="#000"/>
<rect x="839" y="241" width="3" height="3" fill="#00ff00"/>
<rect x="848" y="237" width="1" height="28" fill="#000"/>
<rect x="846" y="244" width="5" height="14" fill="#000"/>
<rect x="847" y="245" width="3" height="12" fill="#00ff00"/>
<rect x="856" y="251" width="1" height="77" fill="#000"/>
<rect x="854" y="257" width="5" height="60" fill="#000"/>
<rect x="855" y="258" width="3" height="58" fill="#00ff00"/>
<rect x="864" y="249" width="1" height="97" fill="#000"/>
<rect x="862" y="259" width="5" height="58" fill="#000"/>
<rect x="863" y="260" width="3" height="56" fill="#ff0000"/>
<rect x="872" y="202" width="1" height="67" fill="#000"/>
<rect x="870" y="211" width="5" height="49" fill="#000"/>
<rect x="871" y="212" width="3" height="47" fill="#ff0000"/>
<rect x="880" y="274" width="1" height="19" fill="#000"/>
<rect x="878" y="284" width="5" height="6" fill="#000"/>
<rect x="879" y="285" width="3" height="4" fill="#00ff00"/>
<rect x="888" y="281" width="1" height="26" fill="#000"/>
<rect x="886" y="289" width="5" height="7" fill="#000"/>
<rect x="887" y="290" width="3" height="5" fill="#00ff00"/>
<rect x="896" y="249" width="1" height="48" fill="#000"/>
<rect x="894" y="256" width="5" height="40" fill="#000"/>
<rect x="895" y="257" width="3" height="38" fill="#ff0000"/>
<rect x="904" y="238" width="1" height="49" fill="#000"/>
<rect x="902" y="256" width="5" height="24" fill="#000"/>
<rect x="903" y="257" width="3" height="22" fill="#00ff00"/>
<rect x="912" y="278" width="1" height="171" fill="#000"/>
<rect x="910" y="279" width="5" height="143" fill="#000"/>
<rect x="911" y="280" width="3" height="141" fill="#00ff00"/>
<rect x="920" y="416" width="1" height="79" fill="#000"/>
<rect x="918" y="421" width="5" height="22" fill="#000"/>
<rect x="919" y="422" width="3" height="20" fill="#00ff00"/>
<rect x="928" y="439" width="1" height="13" fill="#000"/>
<rect x="926" y="441" width="5" height="1" fill="#000"/>
<rect x="936" y="423" width="1" height="13" fill="#000"/>
<rect x="934" y="424" width="5" height="7" fill="#000"/>
<rect x="935" y="425" width="3" height="5" fill="#00ff00"/>
<rect x="944" y="425" width="1" height="49" fill="#000"/>
<rect x="942" y="430" width="5" height="33" fill="#000"/>
<rect x="943" y="431" width="3" height="31" fill="#00ff00"/>
<rect x="952" y="430" width="1" height="35" fill="#000"/>
<rect x="950" y="451" width="5" height="11" fill="#000"/>
<rect x="951" y="452" width="3" height="9" fill="#ff0000"/>
<rect x="960" y="436" width="1" height="49" fill="#000"/>
<rect x="958" y="441" width="5" height="10" fill="#000"/>
<rect x="959" y="442" width="3" height="8" fill="#ff0000"/>
<rect x="968" y="432" width="1" height="45" fill="#000"/>
<rect x="966" y="441" width="5" height="5" fill="#000"/>
<rect x="967" y="442" width="3" height="3" fill="#00ff00"/>
<rect x="976" y="429" width="1" height="20" fill="#000"/>
<rect x="974" y="429" width="5" height="17" fill="#000"/>
<rect x="975" y="430" width="3" height="15" fill="#ff0000"/>
<rect x="984" y="428" width="1" height="10" fill="#000"/>
<rect x="982" y="432" width="5" height="2" fill="#000"/>
<rect x="992" y="385" width="1" height="49" fill="#000"/>
<rect x="990" y="402" width="5" height="32" fill="#000"/>
<rect x="991" y="403" width="3" height="30" fill="#ff0000"/>
<rect x="1000" y="393" width="1" height="33" fill="#000"/>
<rect x="998" y="397" width="5" height="5" fill="#000"/>
<rect x="999" y="398" width="3" height="3" fill="#ff0000"/>
<rect x="1008" y="384" width="1" height="31" fill="#000"/>
<rect x="1006" y="397" width="5" height="2" fill="#000"/>
<rect x="1016" y="375" width="1" height="58" fill="#000"/>
<rect x="1014" y="398" width="5" height="24" fill="#000"/>
<rect x="1015" y="399" width="3" height="22" fill="#00ff00"/>
<rect x="1024" y="403" width="1" height="30" fill="#000"/>
<rect x="1022" y="417" width="5" height="5" fill="#000"/>
<rect x="1023" y="418" width="3" height="3" fill="#ff0000"/>
<rect x="1032" y="406" width="1" height="23" fill="#000"/>
<rect x="1030" y="417" width="5" height="9" fill="#000"/>
<rect x="1031" y="418" width="3" height="7" fill="#00ff00"/>
<rect x="1040" y="423" width="1" height="108" fill="#000"/>
<rect x="1038" y="425" width="5" height="87" fill="#000"/>
<rect x="1039" y="426" width="3" height="85" fill="#00ff00"/>
<rect x="1048" y="505" width="1" height="72" fill="#000"/>
<rect x="1046" y="511" width="5" height="38" fill="#000"/>
<rect x="1047" y="512" width="3" height="36" fill="#00ff00"/>
<rect x="1056" y="531" width="1" height="31" fill="#000"/>
<rect x="1054" y="548" width="5" height="12" fill="#000"/>
<rect x="1055" y="549" width="3" height="10" fill="#00ff00"/>
<rect x="1064" y="503" width="1" height="116" fill="#000"/>
<rect x="1062" y="507" width="5" height="53" fill="#000"/>
<rect x="1063" y="508" width="3" height="51" fill="#ff0000"/>
<rect x="1072" y="473" width="1" height="52" fill="#000"/>
<rect x="1070" y="507" width="5" height="17" fill="#000"/>
<rect x="1071" y="508" width="3" height="15" fill="#00ff00"/>
<rect x="1080" y="521" width="1" height="53" fill="#000"/>
<rect x="1078" y="523" width="5" height="37" fill="#000"/>
<rect x="1079" y="524" width="3" height="35" fill="#00ff00"/>
<rect x="1088" y="534" width="1" height="65" fill="#000"/>
<rect x="1086" y="559" width="5" height="12" fill="#000"/>
<rect x="1087" y="560" width="3" height="10" fill="#00ff00"/>
<rect x="1096" y="527" width="1" height="52" fill="#000"/>
<rect x="1094" y="546" width="5" height="25" fill="#000"/>
<rect x="1095" y="547" width="3" height="23" fill="#ff0000"/>
<rect x="1104" y="495" width="1" height="75" fill="#000"/>
<rect x="1102" y="500" width="5" height="47" fill="#000"/>
<rect x="1103" y="501" width="3" height="45" fill="#ff0000"/>
<rect x="1112" y="479" width="1" height="59" fill="#000"/>
<rect x="1110" y="500" width="5" height="22" fill="#000"/>
<rect x="1111" y="501" width="3" height="20" fill="#00ff00"/>
<rect x="1120" y="519" width="1" height="47" fill="#000"/>
<rect x="1118" y="521" width="5" height="38" fill="#000"/>
<rect x="1119" y="522" width="3" height="36" fill="#00ff00"/>
<rect x="1128" y="542" width="1" height="18" fill="#000"/>
<rect x="1126" y="545" width="5" height="14" fill="#000"/>
<rect x="1127" y="546" width="3" height="12" fill="#ff0000"/>
<rect x="1136" y="523" width="1" height="38" fill="#000"/>
<rect x="1134" y="545" width="5" height="4" fill="#000"/>
<rect x="1135" y="546" width="3" height="2" fill="#00ff00"/>
<rect x="1144" y="524" width="1" height="42" fill="#000"/>
<rect x="1142" y="544" width="5" height="5" fill="#000"/>
<rect x="1143" y="545" width="3" height="3" fill="#ff0000"/>
<rect x="1152" y="499" width="1" height="55" fill="#000"/>
<rect x="1150" y="506" width="5" height="39" fill="#000"/>
<rect x="1151" y="507" width="3" height="37" fill="#ff0000"/>
<rect x="1160" y="441" width="1" height="93" fill="#000"/>
<rect x="1158" y="466" width="5" height="41" fill="#000"/>
<rect x="1159" y="467" width="3" height="39" fill="#ff0000"/>
<rect x="1168" y="460" width="1" height="38" fill="#000"/>
<rect x="1166" y="464" width="5" height="2" fill="#000"/>
<rect x="1176" y="463" width="1" height="6" fill="#000"/>
<rect x="1174" y="464" width="5" height="3" fill="#000"/>
<rect x="1175" y="465" width="3" height="1" fill="#00ff00"/>
<rect x="1184" y="489" width="1" height="7" fill="#000"/>
<rect x="1182" y="493" width="5" height="2" fill="#000"/>
<rect x="1192" y="446" width="1" height="70" fill="#000"/>
<rect x="1190" y="463" width="5" height="31" fill="#000"/>
<rect x="1191" y="464" width="3" height="29" fill="#ff0000"/>
<rect x="1200" y="448" width="1" height="31" fill="#000"/>
<rect x="1198" y="451" width="5" height="13" fill="#000"/>
<rect x="1199" y="452" width="3" height="11" fill="#ff0000"/>
<rect x="1208" y="448" width="1" height="37" fill="#000"/>
<rect x="1206" y="451" width="5" height="1" fill="#000"/>
<rect x="1216" y="413" width="1" height="92" fill="#000"/>
<rect x="1214" y="427" width="5" height="25" fill="#000"/>
<rect x="1215" y="428" width="3" height="23" fill="#ff0000"/>
<rect x="1224" y="391" width="1" height="47" fill="#000"/>
<rect x="1222" y="408" width="5" height="20" fill="#000"/>
<rect x="1223" y="409" width="3" height="18" fill="#ff0000"/>
<rect x="1232" y="396" width="1" height="15" fill="#000"/>
<rect x="1230" y="397" width="5" height="12" fill="#000"/>
<rect x="1231" y="398" width="3" height="10" fill="#ff0000"/>
<rect x="1240" y="379" width="1" height="21" fill="#000"/>
<rect x="1238" y="384" width="5" height="13" fill="#000"/>
<rect x="1239" y="385" width="3" height="11" fill="#ff0000"/>
<rect x="1248" y="361" width="1" height="31" fill="#000"/>
<rect x="1246" y="383" width="5" height="2" fill="#000"/>
<rect x="1256" y="361" width="1" height="32" fill="#000"/>
<rect x="1254" y="370" width="5" height="13" fill="#000"/>
<rect x="1255" y="371" width="3" height="11" fill="#ff0000"/>
<rect x="1264" y="364" width="1" height="50" fill="#000"/>
<rect x="1262" y="370" width="5" height="14" fill="#000"/>
<rect x="1263" y="371" width="3" height="12" fill="#00ff00"/>
<rect x="1272" y="348" width="1" height="44" fill="#000"/>
<rect x="1270" y="361" width="5" height="23" fill="#000"/>
<rect x="1271" y="362" width="3" height="21" fill="#ff0000"/>
<rect x="1280" y="349" width="1" height="15" fill="#000"/>
<rect x="1278" y="357" width="5" height="5" fill="#000"/>
<rect x="1279" y="358" width="3" height="3" fill="#ff0000"/>
</g>
<path d="M717,63h6v1h-6zM861,63h8v1h-8zM711,64h6v1h-6zM723,64h3v1h-3zM856,64h5v1h-5zM869,64h4v1h-4zM708,65h3v1h-3zM726,65h3v1h-3zM873,65h2v1h-2zM706,66h2v1h-2zM875,66h2v1h-2zM655,67h6v1h-6zM703,67h3v1h-3zM730,67h2v1h-2zM629,68h6v1h-6zM661,68h4v1h-4zM700,68h3v1h-3zM878,68h2v1h-2zM623,69h6v1h-6zM635,69h3v1h-3zM651,69h3v1h-3zM665,69h2v1h-2zM698,69h2v1h-2zM733,69h2v1h-2zM620,70h3v1h-3zM638,70h7v1h-7zM667,70h2v1h-2zM693,70h5v1h-5zM881,70h2v1h-2zM618,71h2v1h-2zM645,71h5v1h-5zM687,71h6v1h-6zM736,71h2v1h-2zM883,71h2v1h-2zM616,72h2v1h-2zM670,72h2v1h-2zM614,73h2v1h-2zM672,73h3v1h-3zM683,73h3v1h-3zM739,73h3v1h-3zM886,73h2v1h-2zM675,74h3v1h-3zM847,74h2v1h-2zM611,75h2v1h-2zM678,75h4v1h-4zM743,75h4v1h-4zM767,75h6v1h-6zM609,76h2v1h-2zM747,76h3v1h-3zM764,76h3v1h-3zM773,76h8v1h-8zM843,76h3v1h-3zM750,77h7v1h-7zM762,77h2v1h-2zM781,77h5v1h-5zM606,78h2v1h-2zM757,78h5v1h-5zM786,78h2v1h-2zM829,78h13v1h-13zM788,79h3v1h-3zM824,79h5v1h-5zM603,80h2v1h-2zM791,80h6v1h-6zM601,81h2v1h-2zM797,81h8v1h-8zM805,82h4v1h-4zM598,83h2v1h-2zM810,84h2v1h-2zM595,85h2v1h-2zM593,86h2v1h-2zM813,86h2v1h-2zM493,88h5v1h-5zM487,89h6v1h-6zM498,89h2v1h-2zM500,90h3v1h-3zM917,90h4v1h-4zM483,91h3v1h-3zM503,91h2v1h-2zM904,91h13v1h-13zM479,93h3v1h-3zM475,95h3v1h-3zM471,97h3v1h-3zM467,99h3v1h-3zM464,101h2v1h-2zM461,103h2v1h-2zM458,105h2v1h-2zM928,106h5v1h-5zM933,107h6v1h-6zM939,108h3v1h-3zM942,109h3v1h-3zM542,113h11v1h-11zM539,114h3v1h-3zM533,115h6v1h-6zM554,115h2v1h-2zM527,116h6v1h-6zM524,117h3v1h-3zM557,117h2v1h-2zM522,118h2v1h-2zM520,119h2v1h-2zM560,119h9v1h-9zM389,155h4v1h-4zM383,156h6v1h-6zM393,156h2v1h-2zM380,157h3v1h-3zM395,157h2v1h-2zM378,158h2v1h-2zM375,159h3v1h-3zM398,159h2v1h-2zM372,160h3v1h-3zM370,161h2v1h-2zM365,162h5v1h-5zM402,162h2v1h-2zM360,163h5v1h-5zM358,164h2v1h-2zM405,164h2v1h-2zM355,166h2v1h-2zM408,166h2v1h-2zM353,167h2v1h-2zM351,168h2v1h-2zM411,168h3v1h-3zM347,170h3v1h-3zM415,170h2v1h-2zM261,172h2v1h-2zM266,172h2v1h-2zM344,172h2v1h-2zM342,173h2v1h-2zM258,174h2v1h-2zM269,174h2v1h-2zM339,175h2v1h-2zM272,176h13v1h-13zM337,176h2v1h-2zM285,177h8v1h-8zM301,177h8v1h-8zM293,178h8v1h-8zM309,178h5v1h-5zM333,179h2v1h-2zM315,180h3v1h-3zM330,181h2v1h-2zM319,182h6v1h-6zM325,183h4v1h-4zM229,206h4v1h-4zM224,207h5v1h-5zM213,217h2v1h-2zM210,219h2v1h-2zM1010,219h2v1h-2zM1013,221h2v1h-2zM158,280h2v1h-2zM155,282h2v1h-2zM153,283h2v1h-2zM1276,325h2v1h-2zM0,344h17v1h-17zM1087,351h4v1h-4zM1084,352h3v1h-3zM1091,352h3v1h-3zM1082,353h2v1h-2zM1094,353h7v1h-7zM1080,354h2v1h-2zM1101,354h5v1h-5zM1078,355h2v1h-2zM1106,355h2v1h-2zM1108,356h3v1h-3zM1075,357h2v1h-2zM1111,357h4v1h-4zM111,358h2v1h-2zM1064,358h5v1h-5zM1073,358h2v1h-2zM1115,358h3v1h-3zM108,359h3v1h-3zM1069,359h4v1h-4zM1118,359h4v1h-4zM106,360h2v1h-2zM102,361h4v1h-4zM1123,361h3v1h-3zM26,362h2v1h-2zM99,362h3v1h-3zM93,363h6v1h-6zM1127,363h2v1h-2zM29,364h2v1h-2zM45,364h5v1h-5zM77,364h16v1h-16zM37,365h8v1h-8zM69,365h8v1h-8zM1130,365h2v1h-2zM32,366h5v1h-5zM51,366h3v1h-3zM62,366h7v1h-7zM59,367h3v1h-3zM1133,367h2v1h-2zM55,368h4v1h-4zM1140,373h2v1h-2zM16,345h1v1h-1zM17,346h1v1h-1zM18,347h1v3h-1zM19,350h1v1h-1zM20,351h1v3h-1zM21,354h1v1h-1zM22,355h1v3h-1zM23,358h1v1h-1zM24,359h1v2h-1zM25,361h1v1h-1zM28,363h1v1h-1zM31,365h1v1h-1zM50,365h1v1h-1zM54,367h1v1h-1zM112,357h1v1h-1zM113,354h1v3h-1zM114,351h1v3h-1zM115,348h1v3h-1zM116,346h1v2h-1zM117,343h1v3h-1zM118,340h1v3h-1zM119,337h1v3h-1zM120,334h1v3h-1zM121,332h1v2h-1zM122,330h1v2h-1zM123,327h1v3h-1zM124,325h1v2h-1zM125,322h1v3h-1zM126,320h1v2h-1zM127,318h1v2h-1zM128,316h1v2h-1zM129,314h1v2h-1zM130,313h1v1h-1zM131,311h1v2h-1zM132,310h1v1h-1zM133,308h1v2h-1zM134,307h1v1h-1zM135,305h1v2h-1zM136,304h1v1h-1zM137,302h1v2h-1zM138,301h1v1h-1zM139,299h1v2h-1zM140,298h1v1h-1zM141,296h1v2h-1zM142,295h1v1h-1zM143,293h1v2h-1zM144,292h1v1h-1zM145,291h1v1h-1zM146,290h1v1h-1zM147,289h1v1h-1zM148,288h1v1h-1zM149,287h1v1h-1zM150,286h1v1h-1zM151,285h1v1h-1zM152,284h1v1h-1zM157,281h1v1h-1zM160,279h1v1h-1zM161,278h1v1h-1zM162,277h1v1h-1zM163,276h1v1h-1zM164,275h1v1h-1zM165,274h1v1h-1zM166,273h1v1h-1zM167,272h1v1h-1zM168,271h1v1h-1zM169,269h1v2h-1zM170,268h1v1h-1zM171,266h1v2h-1zM172,265h1v1h-1zM173,263h1v2h-1zM174,262h1v1h-1zM175,260h1v2h-1zM176,259h1v1h-1zM177,258h1v1h-1zM178,257h1v1h-1zM179,256h1v1h-1zM180,254h1v2h-1zM181,253h1v1h-1zM182,252h1v1h-1zM183,251h1v1h-1zM184,250h1v1h-1zM185,249h1v1h-1zM186,248h1v1h-1zM187,247h1v1h-1zM188,245h1v2h-1zM189,244h1v1h-1zM190,243h1v1h-1zM191,242h1v1h-1zM192,241h1v1h-1zM193,239h1v2h-1zM194,238h1v1h-1zM195,237h1v1h-1zM196,235h1v2h-1zM197,234h1v1h-1zM198,233h1v1h-1zM199,231h1v2h-1zM200,230h1v1h-1zM201,229h1v1h-1zM202,228h1v1h-1zM203,227h1v1h-1zM204,225h1v2h-1zM205,224h1v1h-1zM206,223h1v1h-1zM207,222h1v1h-1zM208,221h1v1h-1zM209,220h1v1h-1zM212,218h1v1h-1zM215,216h1v1h-1zM216,215h1v1h-1zM217,214h1v1h-1zM218,213h1v1h-1zM219,212h1v1h-1zM220,211h1v1h-1zM221,210h1v1h-1zM222,209h1v1h-1zM223,208h1v1h-1zM233,205h1v1h-1zM234,204h1v1h-1zM235,203h1v1h-1zM236,201h1v2h-1zM237,200h1v1h-1zM238,199h1v1h-1zM239,198h1v1h-1zM240,197h1v1h-1zM241,196h1v1h-1zM242,195h1v1h-1zM243,194h1v1h-1zM244,192h1v2h-1zM245,191h1v1h-1zM246,190h1v1h-1zM247,189h1v1h-1zM248,188h1v1h-1zM249,186h1v2h-1zM250,185h1v1h-1zM251,183h1v2h-1zM252,182h1v1h-1zM253,180h1v2h-1zM254,179h1v1h-1zM255,177h1v2h-1zM256,176h1v1h-1zM257,175h1v1h-1zM260,173h1v1h-1zM263,171h1v1h-1zM264,170h1v1h-1zM265,171h1v1h-1zM268,173h1v1h-1zM271,175h1v1h-1zM314,179h1v1h-1zM318,181h1v1h-1zM329,182h1v1h-1zM332,180h1v1h-1zM335,178h1v1h-1zM336,177h1v1h-1zM341,174h1v1h-1zM346,171h1v1h-1zM350,169h1v1h-1zM357,165h1v1h-1zM397,158h1v1h-1zM400,160h1v1h-1zM401,161h1v1h-1zM404,163h1v1h-1zM407,165h1v1h-1zM410,167h1v1h-1zM414,169h1v1h-1zM417,169h1v1h-1zM418,167h1v2h-1zM419,166h1v1h-1zM420,165h1v1h-1zM421,164h1v1h-1zM422,162h1v2h-1zM423,161h1v1h-1zM424,159h1v2h-1zM425,158h1v1h-1zM426,155h1v3h-1zM427,154h1v1h-1zM428,151h1v3h-1zM429,150h1v1h-1zM430,147h1v3h-1zM431,146h1v1h-1zM432,143h1v3h-1zM433,142h1v1h-1zM434,139h1v3h-1zM435,138h1v1h-1zM436,135h1v3h-1zM437,134h1v1h-1zM438,131h1v3h-1zM439,130h1v1h-1zM440,128h1v2h-1zM441,126h1v2h-1zM442,125h1v1h-1zM443,123h1v2h-1zM444,122h1v1h-1zM445,120h1v2h-1zM446,119h1v1h-1zM447,117h1v2h-1zM448,116h1v1h-1zM449,115h1v1h-1zM450,114h1v1h-1zM451,113h1v1h-1zM452,111h1v2h-1zM453,110h1v1h-1zM454,109h1v1h-1zM455,108h1v1h-1zM456,107h1v1h-1zM457,106h1v1h-1zM460,104h1v1h-1zM463,102h1v1h-1zM466,100h1v1h-1zM470,98h1v1h-1zM474,96h1v1h-1zM478,94h1v1h-1zM482,92h1v1h-1zM486,90h1v1h-1zM505,92h1v1h-1zM506,93h1v1h-1zM507,94h1v1h-1zM508,95h1v2h-1zM509,97h1v1h-1zM510,98h1v1h-1zM511,99h1v1h-1zM512,100h1v2h-1zM513,102h1v2h-1zM514,104h1v2h-1zM515,106h1v3h-1zM516,109h1v2h-1zM517,111h1v3h-1zM518,114h1v2h-1zM519,116h1v2h-1zM520,118h1v1h-1zM553,114h1v1h-1zM556,116h1v1h-1zM559,118h1v1h-1zM568,118h1v1h-1zM569,117h1v1h-1zM570,114h1v3h-1zM571,113h1v1h-1zM572,110h1v3h-1zM573,109h1v1h-1zM574,106h1v3h-1zM575,105h1v1h-1zM576,103h1v2h-1zM577,102h1v1h-1zM578,101h1v1h-1zM579,100h1v1h-1zM580,99h1v1h-1zM581,98h1v1h-1zM582,97h1v1h-1zM583,96h1v1h-1zM584,95h1v1h-1zM585,94h1v1h-1zM586,93h1v1h-1zM587,92h1v1h-1zM588,91h1v1h-1zM589,90h1v1h-1zM590,89h1v1h-1zM591,88h1v1h-1zM592,87h1v1h-1zM597,84h1v1h-1zM600,82h1v1h-1zM605,79h1v1h-1zM608,77h1v1h-1zM613,74h1v1h-1zM650,70h1v1h-1zM654,68h1v1h-1zM669,71h1v1h-1zM682,74h1v1h-1zM686,72h1v1h-1zM729,66h1v1h-1zM732,68h1v1h-1zM735,70h1v1h-1zM738,72h1v1h-1zM742,74h1v1h-1zM809,83h1v1h-1zM812,85h1v1h-1zM815,87h1v1h-1zM816,88h1v1h-1zM817,87h1v1h-1zM818,86h1v1h-1zM819,85h1v1h-1zM820,83h1v2h-1zM821,82h1v1h-1zM822,81h1v1h-1zM823,80h1v1h-1zM842,77h1v1h-1zM846,75h1v1h-1zM849,73h1v1h-1zM850,71h1v2h-1zM851,70h1v1h-1zM852,69h1v1h-1zM853,68h1v1h-1zM854,66h1v2h-1zM855,65h1v1h-1zM877,67h1v1h-1zM880,69h1v1h-1zM885,72h1v1h-1zM888,74h1v1h-1zM889,75h1v1h-1zM890,76h1v1h-1zM891,77h1v1h-1zM892,78h1v1h-1zM893,79h1v1h-1zM894,80h1v1h-1zM895,81h1v1h-1zM896,82h1v1h-1zM897,83h1v1h-1zM898,84h1v1h-1zM899,85h1v1h-1zM900,86h1v2h-1zM901,88h1v1h-1zM902,89h1v1h-1zM903,90h1v1h-1zM920,91h1v1h-1zM921,92h1v1h-1zM922,93h1v3h-1zM923,96h1v1h-1zM924,97h1v3h-1zM925,100h1v1h-1zM926,101h1v3h-1zM927,104h1v1h-1zM928,105h1v1h-1zM945,110h1v1h-1zM946,111h1v2h-1zM947,113h1v1h-1zM948,114h1v1h-1zM949,115h1v1h-1zM950,116h1v2h-1zM951,118h1v1h-1zM952,119h1v1h-1zM953,120h1v2h-1zM954,122h1v2h-1zM955,124h1v2h-1zM956,126h1v2h-1zM957,128h1v2h-1zM958,130h1v2h-1zM959,132h1v2h-1zM960,134h1v1h-1zM961,135h1v2h-1zM962,137h1v2h-1zM963,139h1v2h-1zM964,141h1v2h-1zM965,143h1v2h-1zM966,145h1v2h-1zM967,147h1v2h-1zM968,149h1v1h-1zM969,150h1v2h-1zM970,152h1v2h-1zM971,154h1v2h-1zM972,156h1v1h-1zM973,157h1v2h-1zM974,159h1v2h-1zM975,161h1v2h-1zM976,163h1v1h-1zM977,164h1v1h-1zM978,165h1v1h-1zM979,166h1v1h-1zM980,167h1v2h-1zM981,169h1v1h-1zM982,170h1v1h-1zM983,171h1v1h-1zM984,172h1v1h-1zM985,173h1v2h-1zM986,175h1v2h-1zM987,177h1v2h-1zM988,179h1v2h-1zM989,181h1v2h-1zM990,183h1v2h-1zM991,185h1v2h-1zM992,187h1v1h-1zM993,188h1v2h-1zM994,190h1v2h-1zM995,192h1v2h-1zM996,194h1v2h-1zM997,196h1v2h-1zM998,198h1v2h-1zM999,200h1v2h-1zM1000,202h1v1h-1zM1001,203h1v2h-1zM1002,205h1v2h-1zM1003,207h1v2h-1zM1004,209h1v2h-1zM1005,211h1v2h-1zM1006,213h1v2h-1zM1007,215h1v2h-1zM1008,217h1v1h-1zM1009,218h1v1h-1zM1012,220h1v1h-1zM1015,222h1v1h-1zM1016,223h1v2h-1zM1017,225h1v2h-1zM1018,227h1v2h-1zM1019,229h1v2h-1zM1020,231h1v3h-1zM1021,234h1v2h-1zM1022,236h1v2h-1zM1023,238h1v2h-1zM1024,240h1v4h-1zM1025,244h1v4h-1zM1026,248h1v4h-1zM1027,252h1v4h-1zM1028,256h1v5h-1zM1029,261h1v4h-1zM1030,265h1v4h-1zM1031,269h1v4h-1zM1032,273h1v3h-1zM1033,276h1v2h-1zM1034,278h1v1h-1zM1035,279h1v2h-1zM1036,281h1v1h-1zM1037,282h1v2h-1zM1038,284h1v1h-1zM1039,285h1v2h-1zM1040,287h1v1h-1zM1041,288h1v2h-1zM1042,290h1v1h-1zM1043,291h1v1h-1zM1044,292h1v2h-1zM1045,294h1v1h-1zM1046,295h1v1h-1zM1047,296h1v2h-1zM1048,298h1v2h-1zM1049,300h1v3h-1zM1050,303h1v4h-1zM1051,307h1v3h-1zM1052,310h1v3h-1zM1053,313h1v3h-1zM1054,316h1v4h-1zM1055,320h1v3h-1zM1056,323h1v4h-1zM1057,327h1v4h-1zM1058,331h1v4h-1zM1059,335h1v4h-1zM1060,339h1v5h-1zM1061,344h1v4h-1zM1062,348h1v4h-1zM1063,352h1v4h-1zM1064,356h1v2h-1zM1077,356h1v1h-1zM1122,360h1v1h-1zM1126,362h1v1h-1zM1129,364h1v1h-1zM1132,366h1v1h-1zM1135,368h1v1h-1zM1136,369h1v1h-1zM1137,370h1v1h-1zM1138,371h1v1h-1zM1139,372h1v1h-1zM1142,374h1v1h-1zM1143,375h1v1h-1zM1144,376h1v1h-1zM1145,377h1v2h-1zM1146,379h1v2h-1zM1147,381h1v2h-1zM1148,383h1v1h-1zM1149,384h1v2h-1zM1150,386h1v2h-1zM1151,388h1v2h-1zM1152,390h1v1h-1zM1153,391h1v2h-1zM1154,393h1v2h-1zM1155,395h1v1h-1zM1156,396h1v2h-1zM1157,398h1v1h-1zM1158,399h1v2h-1zM1159,401h1v2h-1zM1160,403h1v1h-1zM1161,404h1v2h-1zM1162,406h1v2h-1zM1163,408h1v2h-1zM1164,410h1v1h-1zM1165,411h1v2h-1zM1166,413h1v2h-1zM1167,415h1v2h-1zM1168,417h1v1h-1zM1169,418h1v1h-1zM1170,419h1v1h-1zM1171,420h1v1h-1zM1172,421h1v2h-1zM1173,423h1v1h-1zM1174,424h1v1h-1zM1175,425h1v1h-1zM1176,426h1v1h-1zM1177,427h1v2h-1zM1178,429h1v2h-1zM1179,431h1v2h-1zM1180,433h1v2h-1zM1181,435h1v2h-1zM1182,437h1v2h-1zM1183,439h1v2h-1zM1184,441h1v1h-1zM1185,442h1v1h-1zM1186,443h1v1h-1zM1187,444h1v1h-1zM1188,445h1v2h-1zM1189,447h1v1h-1zM1190,448h1v1h-1zM1191,449h1v1h-1zM1192,450h1v1h-1zM1193,449h1v1h-1zM1194,448h1v1h-1zM1195,447h1v1h-1zM1196,445h1v2h-1zM1197,444h1v1h-1zM1198,443h1v1h-1zM1199,442h1v1h-1zM1200,441h1v1h-1zM1201,440h1v1h-1zM1202,439h1v1h-1zM1203,438h1v1h-1zM1204,437h1v1h-1zM1205,436h1v1h-1zM1206,435h1v1h-1zM1207,434h1v1h-1zM1208,433h1v1h-1zM1209,431h1v2h-1zM1210,430h1v1h-1zM1211,428h1v2h-1zM1212,427h1v1h-1zM1213,425h1v2h-1zM1214,424h1v1h-1zM1215,422h1v2h-1zM1216,421h1v1h-1zM1217,419h1v2h-1zM1218,417h1v2h-1zM1219,415h1v2h-1zM1220,413h1v2h-1zM1221,411h1v2h-1zM1222,409h1v2h-1zM1223,407h1v2h-1zM1224,405h1v2h-1zM1225,404h1v1h-1zM1226,401h1v3h-1zM1227,400h1v1h-1zM1228,397h1v3h-1zM1229,396h1v1h-1zM1230,393h1v3h-1zM1231,392h1v1h-1zM1232,390h1v2h-1zM1233,388h1v2h-1zM1234,386h1v2h-1zM1235,384h1v2h-1zM1236,383h1v1h-1zM1237,381h1v2h-1zM1238,379h1v2h-1zM1239,377h1v2h-1zM1240,376h1v1h-1zM1241,374h1v2h-1zM1242,373h1v1h-1zM1243,372h1v1h-1zM1244,370h1v2h-1zM1245,369h1v1h-1zM1246,368h1v1h-1zM1247,366h1v2h-1zM1248,365h1v1h-1zM1249,363h1v2h-1zM1250,361h1v2h-1zM1251,360h1v1h-1zM1252,358h1v2h-1zM1253,357h1v1h-1zM1254,355h1v2h-1zM1255,353h1v2h-1zM1256,352h1v1h-1zM1257,350h1v2h-1zM1258,349h1v1h-1zM1259,348h1v1h-1zM1260,346h1v2h-1zM1261,345h1v1h-1zM1262,344h1v1h-1zM1263,342h1v2h-1zM1264,341h1v1h-1zM1265,339h1v2h-1zM1266,338h1v1h-1zM1267,336h1v2h-1zM1268,335h1v1h-1zM1269,333h1v2h-1zM1270,332h1v1h-1zM1271,330h1v2h-1zM1272,329h1v1h-1zM1273,328h1v1h-1zM1274,327h1v1h-1zM1275,326h1v1h-1zM1278,324h1v1h-1zM1279,323h1v1h-1zM1280,322h1v1h-1z" fill="#3cb371" shape-rendering="crispEdges"/>
<path d="M677,124h6v1h-6zM671,125h6v1h-6zM683,125h3v1h-3zM668,126h3v1h-3zM686,126h13v1h-13zM666,127h2v1h-2zM699,127h3v1h-3zM655,128h11v1h-11zM702,128h5v1h-5zM707,129h3v1h-3zM717,129h8v1h-8zM651,130h3v1h-3zM710,130h7v1h-7zM725,130h5v1h-5zM730,131h2v1h-2zM647,132h3v1h-3zM732,132h3v1h-3zM644,133h3v1h-3zM735,133h6v1h-6zM642,134h2v1h-2zM741,134h8v1h-8zM765,134h4v1h-4zM639,135h3v1h-3zM749,135h16v1h-16zM769,135h2v1h-2zM636,136h3v1h-3zM771,136h2v1h-2zM634,137h2v1h-2zM631,138h3v1h-3zM774,138h2v1h-2zM628,139h3v1h-3zM776,139h2v1h-2zM626,140h2v1h-2zM778,140h2v1h-2zM623,141h3v1h-3zM780,141h3v1h-3zM620,142h3v1h-3zM783,142h3v1h-3zM618,143h2v1h-2zM786,143h2v1h-2zM615,144h3v1h-3zM788,144h3v1h-3zM612,145h3v1h-3zM791,145h4v1h-4zM610,146h2v1h-2zM795,146h3v1h-3zM606,147h4v1h-4zM798,147h4v1h-4zM603,148h3v1h-3zM802,148h2v1h-2zM598,149h5v1h-5zM804,149h3v1h-3zM595,150h3v1h-3zM807,150h2v1h-2zM591,151h4v1h-4zM588,152h3v1h-3zM586,153h2v1h-2zM582,154h4v1h-4zM812,154h2v1h-2zM579,155h3v1h-3zM576,156h3v1h-3zM574,157h2v1h-2zM816,157h2v1h-2zM571,159h2v1h-2zM819,159h3v1h-3zM569,160h2v1h-2zM823,161h2v1h-2zM826,163h2v1h-2zM564,164h2v1h-2zM829,165h2v1h-2zM833,168h2v1h-2zM835,169h2v1h-2zM556,171h2v1h-2zM838,171h2v1h-2zM840,172h2v1h-2zM842,173h2v1h-2zM844,174h3v1h-3zM551,175h2v1h-2zM847,175h2v1h-2zM547,177h3v1h-3zM543,179h3v1h-3zM852,179h2v1h-2zM540,180h3v1h-3zM538,181h2v1h-2zM535,182h3v1h-3zM856,182h2v1h-2zM532,183h3v1h-3zM530,184h2v1h-2zM859,184h3v1h-3zM527,185h3v1h-3zM863,186h6v1h-6zM523,187h3v1h-3zM869,187h4v1h-4zM520,189h2v1h-2zM509,201h2v1h-2zM506,203h2v1h-2zM890,206h2v1h-2zM893,208h2v1h-2zM900,214h2v1h-2zM486,222h2v1h-2zM483,224h2v1h-2zM481,225h2v1h-2zM479,226h2v1h-2zM476,227h3v1h-3zM474,228h2v1h-2zM471,229h3v1h-3zM467,231h3v1h-3zM463,233h3v1h-3zM460,234h3v1h-3zM458,235h2v1h-2zM456,236h2v1h-2zM453,238h2v1h-2zM450,240h2v1h-2zM445,244h2v1h-2zM319,246h12v1h-12zM442,246h2v1h-2zM331,247h3v1h-3zM315,248h3v1h-3zM334,248h4v1h-4zM338,249h2v1h-2zM309,250h5v1h-5zM340,250h3v1h-3zM437,250h2v1h-2zM303,251h6v1h-6zM343,251h3v1h-3zM300,252h3v1h-3zM346,252h2v1h-2zM434,252h2v1h-2zM298,253h2v1h-2zM348,253h3v1h-3zM294,254h4v1h-4zM351,254h2v1h-2zM431,254h2v1h-2zM291,255h3v1h-3zM353,255h2v1h-2zM381,255h14v1h-14zM285,256h6v1h-6zM355,256h2v1h-2zM374,256h7v1h-7zM395,256h3v1h-3zM427,256h3v1h-3zM277,257h8v1h-8zM371,257h3v1h-3zM398,257h4v1h-4zM272,258h5v1h-5zM358,258h2v1h-2zM365,258h6v1h-6zM402,258h2v1h-2zM422,258h4v1h-4zM360,259h5v1h-5zM404,259h3v1h-3zM419,259h3v1h-3zM407,260h12v1h-12zM268,261h2v1h-2zM220,315h2v1h-2zM213,321h2v1h-2zM210,323h2v1h-2zM205,327h2v1h-2zM202,329h2v1h-2zM196,334h2v1h-2zM188,341h2v1h-2zM181,347h2v1h-2zM178,349h2v1h-2zM173,353h2v1h-2zM170,355h2v1h-2zM164,360h2v1h-2zM159,364h2v1h-2zM155,366h3v1h-3zM152,368h2v1h-2zM149,370h2v1h-2zM146,372h2v1h-2zM1004,372h2v1h-2zM142,375h2v1h-2zM1009,376h2v1h-2zM139,377h2v1h-2zM1011,377h2v1h-2zM137,378h2v1h-2zM1014,379h2v1h-2zM134,380h2v1h-2zM131,382h2v1h-2zM129,383h2v1h-2zM126,384h3v1h-3zM123,385h3v1h-3zM119,386h4v1h-4zM115,388h3v1h-3zM109,390h5v1h-5zM101,391h8v1h-8zM62,392h7v1h-7zM77,392h24v1h-24zM59,393h3v1h-3zM69,393h8v1h-8zM54,394h5v1h-5zM51,395h3v1h-3zM47,396h4v1h-4zM44,397h3v1h-3zM42,398h2v1h-2zM38,399h4v1h-4zM35,400h3v1h-3zM31,401h4v1h-4zM28,402h3v1h-3zM26,403h2v1h-2zM24,404h2v1h-2zM21,406h2v1h-2zM18,408h2v1h-2zM15,410h2v1h-2zM12,411h3v1h-3zM10,412h2v1h-2zM7,413h3v1h-3zM4,414h3v1h-3zM2,415h2v1h-2zM0,416h2v1h-2zM1065,450h2v1h-2zM1067,451h2v1h-2zM1070,453h2v1h-2zM1074,456h2v1h-2zM1077,458h2v1h-2zM1082,462h2v1h-2zM1262,463h2v1h-2zM1085,464h2v1h-2zM1259,465h2v1h-2zM1257,466h2v1h-2zM1090,468h2v1h-2zM1093,470h2v1h-2zM1096,472h3v1h-3zM1099,473h3v1h-3zM1102,474h4v1h-4zM1107,476h3v1h-3zM1111,478h2v1h-2zM1113,479h2v1h-2zM1115,480h2v1h-2zM1118,482h2v1h-2zM1122,485h2v1h-2zM1125,487h2v1h-2zM1129,490h2v1h-2zM1131,491h2v1h-2zM1134,493h2v1h-2zM1138,496h2v1h-2zM1228,497h2v1h-2zM1141,498h2v1h-2zM1145,501h2v1h-2zM1147,502h2v1h-2zM1222,502h2v1h-2zM1150,504h2v1h-2zM1219,504h2v1h-2zM1152,505h2v1h-2zM1217,505h2v1h-2zM1155,507h3v1h-3zM1213,508h2v1h-2zM1159,509h3v1h-3zM1162,510h2v1h-2zM1210,510h2v1h-2zM1164,511h3v1h-3zM1167,512h4v1h-4zM1171,513h3v1h-3zM1206,513h2v1h-2zM1174,514h4v1h-4zM1203,515h2v1h-2zM1179,516h3v1h-3zM1201,516h2v1h-2zM1199,517h2v1h-2zM1183,518h4v1h-4zM1196,518h3v1h-3zM1187,519h3v1h-3zM1194,519h2v1h-2zM1190,520h4v1h-4zM17,409h1v1h-1zM20,407h1v1h-1zM23,405h1v1h-1zM114,389h1v1h-1zM118,387h1v1h-1zM133,381h1v1h-1zM136,379h1v1h-1zM141,376h1v1h-1zM144,374h1v1h-1zM145,373h1v1h-1zM148,371h1v1h-1zM151,369h1v1h-1zM154,367h1v1h-1zM158,365h1v1h-1zM161,363h1v1h-1zM162,362h1v1h-1zM163,361h1v1h-1zM166,359h1v1h-1zM167,358h1v1h-1zM168,357h1v1h-1zM169,356h1v1h-1zM172,354h1v1h-1zM175,352h1v1h-1zM176,351h1v1h-1zM177,350h1v1h-1zM180,348h1v1h-1zM183,346h1v1h-1zM184,345h1v1h-1zM185,344h1v1h-1zM186,343h1v1h-1zM187,342h1v1h-1zM190,340h1v1h-1zM191,339h1v1h-1zM192,338h1v1h-1zM193,337h1v1h-1zM194,336h1v1h-1zM195,335h1v1h-1zM198,333h1v1h-1zM199,332h1v1h-1zM200,331h1v1h-1zM201,330h1v1h-1zM204,328h1v1h-1zM207,326h1v1h-1zM208,325h1v1h-1zM209,324h1v1h-1zM212,322h1v1h-1zM215,320h1v1h-1zM216,319h1v1h-1zM217,318h1v1h-1zM218,317h1v1h-1zM219,316h1v1h-1zM222,314h1v1h-1zM223,313h1v1h-1zM224,312h1v1h-1zM225,311h1v1h-1zM226,310h1v1h-1zM227,309h1v1h-1zM228,307h1v2h-1zM229,306h1v1h-1zM230,305h1v1h-1zM231,304h1v1h-1zM232,303h1v1h-1zM233,302h1v1h-1zM234,301h1v1h-1zM235,300h1v1h-1zM236,299h1v1h-1zM237,298h1v1h-1zM238,297h1v1h-1zM239,296h1v1h-1zM240,295h1v1h-1zM241,294h1v1h-1zM242,292h1v2h-1zM243,291h1v1h-1zM244,290h1v1h-1zM245,289h1v1h-1zM246,287h1v2h-1zM247,286h1v1h-1zM248,285h1v1h-1zM249,284h1v1h-1zM250,282h1v2h-1zM251,281h1v1h-1zM252,280h1v1h-1zM253,279h1v1h-1zM254,277h1v2h-1zM255,276h1v1h-1zM256,275h1v1h-1zM257,274h1v1h-1zM258,272h1v2h-1zM259,271h1v1h-1zM260,270h1v1h-1zM261,269h1v1h-1zM262,267h1v2h-1zM263,266h1v1h-1zM264,265h1v1h-1zM265,264h1v1h-1zM266,263h1v1h-1zM267,262h1v1h-1zM270,260h1v1h-1zM271,259h1v1h-1zM314,249h1v1h-1zM318,247h1v1h-1zM357,257h1v1h-1zM426,257h1v1h-1zM430,255h1v1h-1zM433,253h1v1h-1zM436,251h1v1h-1zM439,249h1v1h-1zM440,248h1v1h-1zM441,247h1v1h-1zM444,245h1v1h-1zM447,243h1v1h-1zM448,242h1v1h-1zM449,241h1v1h-1zM452,239h1v1h-1zM455,237h1v1h-1zM466,232h1v1h-1zM470,230h1v1h-1zM485,223h1v1h-1zM488,221h1v1h-1zM489,220h1v1h-1zM490,219h1v1h-1zM491,218h1v1h-1zM492,217h1v1h-1zM493,216h1v1h-1zM494,215h1v1h-1zM495,214h1v1h-1zM496,213h1v1h-1zM497,212h1v1h-1zM498,211h1v1h-1zM499,210h1v1h-1zM500,209h1v1h-1zM501,208h1v1h-1zM502,207h1v1h-1zM503,206h1v1h-1zM504,205h1v1h-1zM505,204h1v1h-1zM508,202h1v1h-1zM511,200h1v1h-1zM512,199h1v1h-1zM513,198h1v1h-1zM514,196h1v2h-1zM515,195h1v1h-1zM516,194h1v1h-1zM517,193h1v1h-1zM518,191h1v2h-1zM519,190h1v1h-1zM522,188h1v1h-1zM526,186h1v1h-1zM546,178h1v1h-1zM550,176h1v1h-1zM553,174h1v1h-1zM554,173h1v1h-1zM555,172h1v1h-1zM558,170h1v1h-1zM559,169h1v1h-1zM560,168h1v1h-1zM561,167h1v1h-1zM562,166h1v1h-1zM563,165h1v1h-1zM566,163h1v1h-1zM567,162h1v1h-1zM568,161h1v1h-1zM573,158h1v1h-1zM650,131h1v1h-1zM654,129h1v1h-1zM773,137h1v1h-1zM809,151h1v1h-1zM810,152h1v1h-1zM811,153h1v1h-1zM814,155h1v1h-1zM815,156h1v1h-1zM818,158h1v1h-1zM822,160h1v1h-1zM825,162h1v1h-1zM828,164h1v1h-1zM831,166h1v1h-1zM832,167h1v1h-1zM837,170h1v1h-1zM849,176h1v1h-1zM850,177h1v1h-1zM851,178h1v1h-1zM854,180h1v1h-1zM855,181h1v1h-1zM858,183h1v1h-1zM862,185h1v1h-1zM873,188h1v1h-1zM874,189h1v1h-1zM875,190h1v1h-1zM876,191h1v2h-1zM877,193h1v1h-1zM878,194h1v1h-1zM879,195h1v1h-1zM880,196h1v1h-1zM881,197h1v1h-1zM882,198h1v1h-1zM883,199h1v1h-1zM884,200h1v1h-1zM885,201h1v1h-1zM886,202h1v1h-1zM887,203h1v1h-1zM888,204h1v1h-1zM889,205h1v1h-1zM892,207h1v1h-1zM895,209h1v1h-1zM896,210h1v1h-1zM897,211h1v1h-1zM898,212h1v1h-1zM899,213h1v1h-1zM902,215h1v1h-1zM903,216h1v1h-1zM904,217h1v2h-1zM905,219h1v2h-1zM906,221h1v2h-1zM907,223h1v2h-1zM908,225h1v2h-1zM909,227h1v2h-1zM910,229h1v2h-1zM911,231h1v2h-1zM912,233h1v3h-1zM913,236h1v1h-1zM914,237h1v3h-1zM915,240h1v1h-1zM916,241h1v3h-1zM917,244h1v1h-1zM918,245h1v3h-1zM919,248h1v1h-1zM920,249h1v3h-1zM921,252h1v2h-1zM922,254h1v2h-1zM923,256h1v2h-1zM924,258h1v2h-1zM925,260h1v2h-1zM926,262h1v2h-1zM927,264h1v2h-1zM928,266h1v2h-1zM929,268h1v2h-1zM930,270h1v1h-1zM931,271h1v2h-1zM932,273h1v1h-1zM933,274h1v2h-1zM934,276h1v1h-1zM935,277h1v2h-1zM936,279h1v1h-1zM937,280h1v2h-1zM938,282h1v2h-1zM939,284h1v2h-1zM940,286h1v1h-1zM941,287h1v2h-1zM942,289h1v2h-1zM943,291h1v2h-1zM944,293h1v1h-1zM945,294h1v2h-1zM946,296h1v2h-1zM947,298h1v2h-1zM948,300h1v1h-1zM949,301h1v2h-1zM950,303h1v2h-1zM951,305h1v2h-1zM952,307h1v1h-1zM953,308h1v2h-1zM954,310h1v2h-1zM955,312h1v1h-1zM956,313h1v2h-1zM957,315h1v1h-1zM958,316h1v2h-1zM959,318h1v2h-1zM960,320h1v1h-1zM961,321h1v2h-1zM962,323h1v2h-1zM963,325h1v1h-1zM964,326h1v2h-1zM965,328h1v1h-1zM966,329h1v2h-1zM967,331h1v2h-1zM968,333h1v1h-1zM969,334h1v2h-1zM970,336h1v1h-1zM971,337h1v1h-1zM972,338h1v2h-1zM973,340h1v1h-1zM974,341h1v1h-1zM975,342h1v2h-1zM976,344h1v1h-1zM977,345h1v1h-1zM978,346h1v1h-1zM979,347h1v1h-1zM980,348h1v1h-1zM981,349h1v1h-1zM982,350h1v1h-1zM983,351h1v1h-1zM984,352h1v1h-1zM985,353h1v1h-1zM986,354h1v1h-1zM987,355h1v1h-1zM988,356h1v1h-1zM989,357h1v1h-1zM990,358h1v1h-1zM991,359h1v1h-1zM992,360h1v1h-1zM993,361h1v1h-1zM994,362h1v1h-1zM995,363h1v1h-1zM996,364h1v1h-1zM997,365h1v1h-1zM998,366h1v1h-1zM999,367h1v1h-1zM1000,368h1v1h-1zM1001,369h1v1h-1zM1002,370h1v1h-1zM1003,371h1v1h-1zM1006,373h1v1h-1zM1007,374h1v1h-1zM1008,375h1v1h-1zM1013,378h1v1h-1zM1016,380h1v1h-1zM1017,381h1v1h-1zM1018,382h1v1h-1zM1019,383h1v1h-1zM1020,384h1v1h-1zM1021,385h1v1h-1zM1022,386h1v1h-1zM1023,387h1v1h-1zM1024,388h1v1h-1zM1025,389h1v2h-1zM1026,391h1v1h-1zM1027,392h1v1h-1zM1028,393h1v2h-1zM1029,395h1v1h-1zM1030,396h1v1h-1zM1031,397h1v2h-1zM1032,399h1v1h-1zM1033,400h1v2h-1zM1034,402h1v1h-1zM1035,403h1v1h-1zM1036,404h1v2h-1zM1037,406h1v1h-1zM1038,407h1v1h-1zM1039,408h1v2h-1zM1040,410h1v1h-1zM1041,411h1v2h-1zM1042,413h1v1h-1zM1043,414h1v2h-1zM1044,416h1v1h-1zM1045,417h1v2h-1zM1046,419h1v1h-1zM1047,420h1v2h-1zM1048,422h1v2h-1zM1049,424h1v1h-1zM1050,425h1v3h-1zM1051,428h1v1h-1zM1052,429h1v3h-1zM1053,432h1v1h-1zM1054,433h1v3h-1zM1055,436h1v1h-1zM1056,437h1v2h-1zM1057,439h1v2h-1zM1058,441h1v1h-1zM1059,442h1v1h-1zM1060,443h1v2h-1zM1061,445h1v1h-1zM1062,446h1v1h-1zM1063,447h1v2h-1zM1064,449h1v1h-1zM1069,452h1v1h-1zM1072,454h1v1h-1zM1073,455h1v1h-1zM1076,457h1v1h-1zM1079,459h1v1h-1zM1080,460h1v1h-1zM1081,461h1v1h-1zM1084,463h1v1h-1zM1087,465h1v1h-1zM1088,466h1v1h-1zM1089,467h1v1h-1zM1092,469h1v1h-1zM1095,471h1v1h-1zM1106,475h1v1h-1zM1110,477h1v1h-1zM1117,481h1v1h-1zM1120,483h1v1h-1zM1121,484h1v1h-1zM1124,486h1v1h-1zM1127,488h1v1h-1zM1128,489h1v1h-1zM1133,492h1v1h-1zM1136,494h1v1h-1zM1137,495h1v1h-1zM1140,497h1v1h-1zM1143,499h1v1h-1zM1144,500h1v1h-1zM1149,503h1v1h-1zM1154,506h1v1h-1zM1158,508h1v1h-1zM1178,515h1v1h-1zM1182,517h1v1h-1zM1205,514h1v1h-1zM1208,512h1v1h-1zM1209,511h1v1h-1zM1212,509h1v1h-1zM1215,507h1v1h-1zM1216,506h1v1h-1zM1221,503h1v1h-1zM1224,501h1v1h-1zM1225,500h1v1h-1zM1226,499h1v1h-1zM1227,498h1v1h-1zM1230,496h1v1h-1zM1231,495h1v1h-1zM1232,494h1v1h-1zM1233,493h1v1h-1zM1234,492h1v1h-1zM1235,491h1v1h-1zM1236,490h1v1h-1zM1237,489h1v1h-1zM1238,488h1v1h-1zM1239,487h1v1h-1zM1240,486h1v1h-1zM1241,485h1v1h-1zM1242,483h1v2h-1zM1243,482h1v1h-1zM1244,481h1v1h-1zM1245,480h1v1h-1zM1246,478h1v2h-1zM1247,477h1v1h-1zM1248,476h1v1h-1zM1249,475h1v1h-1zM1250,474h1v1h-1zM1251,473h1v1h-1zM1252,471h1v2h-1zM1253,470h1v1h-1zM1254,469h1v1h-1zM1255,468h1v1h-1zM1256,467h1v1h-1zM1261,464h1v1h-1zM1264,462h1v1h-1zM1265,461h1v1h-1zM1266,460h1v1h-1zM1267,459h1v1h-1zM1268,458h1v1h-1zM1269,457h1v1h-1zM1270,456h1v1h-1zM1271,455h1v1h-1zM1272,454h1v1h-1zM1273,452h1v2h-1zM1274,451h1v1h-1zM1275,450h1v1h-1zM1276,448h1v2h-1zM1277,447h1v1h-1zM1278,446h1v1h-1zM1279,444h1v2h-1zM1280,443h1v1h-1z" fill="#3cb371" shape-rendering="crispEdges"/>
<path d="M679,174h2v1h-2zM676,175h3v1h-3zM674,176h2v1h-2zM682,176h2v1h-2zM672,177h2v1h-2zM685,178h2v1h-2zM688,180h2v1h-2zM690,181h2v1h-2zM692,182h3v1h-3zM695,183h2v1h-2zM698,185h2v1h-2zM701,187h2v1h-2zM662,188h3v1h-3zM659,189h3v1h-3zM655,190h4v1h-4zM706,191h2v1h-2zM651,192h3v1h-3zM757,192h6v1h-6zM709,193h2v1h-2zM741,193h16v1h-16zM763,193h3v1h-3zM648,194h2v1h-2zM733,194h8v1h-8zM766,194h3v1h-3zM646,195h2v1h-2zM712,195h21v1h-21zM643,197h2v1h-2zM641,198h2v1h-2zM777,203h2v1h-2zM779,204h2v1h-2zM569,205h2v1h-2zM571,206h2v1h-2zM782,206h2v1h-2zM784,207h2v1h-2zM574,208h2v1h-2zM576,209h2v1h-2zM629,209h2v1h-2zM787,209h3v1h-3zM578,210h2v1h-2zM580,211h3v1h-3zM626,211h2v1h-2zM791,211h3v1h-3zM583,212h3v1h-3zM794,212h2v1h-2zM623,213h2v1h-2zM796,213h3v1h-3zM587,214h3v1h-3zM620,214h3v1h-3zM799,214h2v1h-2zM618,215h2v1h-2zM801,215h2v1h-2zM591,216h6v1h-6zM613,216h5v1h-5zM803,216h2v1h-2zM597,217h16v1h-16zM806,218h2v1h-2zM812,223h2v1h-2zM542,246h2v1h-2zM539,248h2v1h-2zM537,249h2v1h-2zM535,250h2v1h-2zM531,252h3v1h-3zM528,254h2v1h-2zM526,255h2v1h-2zM523,257h2v1h-2zM521,258h2v1h-2zM326,308h3v1h-3zM323,309h3v1h-3zM864,309h3v1h-3zM320,310h3v1h-3zM867,310h3v1h-3zM870,311h3v1h-3zM311,321h2v1h-2zM307,323h3v1h-3zM304,325h2v1h-2zM301,327h2v1h-2zM298,329h2v1h-2zM295,331h2v1h-2zM292,332h3v1h-3zM290,333h2v1h-2zM287,334h3v1h-3zM888,334h2v1h-2zM283,336h3v1h-3zM891,336h3v1h-3zM279,338h3v1h-3zM895,338h2v1h-2zM276,339h3v1h-3zM274,340h2v1h-2zM898,340h2v1h-2zM272,341h2v1h-2zM901,342h2v1h-2zM414,351h3v1h-3zM411,352h3v1h-3zM405,353h6v1h-6zM418,353h2v1h-2zM365,354h40v1h-40zM360,355h5v1h-5zM421,355h2v1h-2zM485,355h2v1h-2zM482,357h2v1h-2zM478,359h3v1h-3zM475,360h3v1h-3zM428,361h2v1h-2zM471,361h4v1h-4zM467,363h3v1h-3zM432,364h2v1h-2zM434,365h2v1h-2zM454,365h12v1h-12zM436,366h3v1h-3zM451,366h3v1h-3zM439,367h12v1h-12zM63,418h3v1h-3zM60,419h3v1h-3zM66,419h2v1h-2zM221,419h2v1h-2zM58,420h2v1h-2zM68,420h3v1h-3zM56,421h2v1h-2zM71,421h42v1h-42zM218,421h2v1h-2zM213,425h2v1h-2zM210,427h2v1h-2zM207,429h2v1h-2zM46,430h3v1h-3zM204,430h3v1h-3zM43,431h3v1h-3zM202,431h2v1h-2zM39,432h4v1h-4zM199,432h3v1h-3zM196,433h3v1h-3zM35,434h3v1h-3zM194,434h2v1h-2zM191,435h3v1h-3zM32,436h2v1h-2zM187,437h3v1h-3zM184,439h2v1h-2zM182,440h2v1h-2zM124,442h2v1h-2zM179,442h2v1h-2zM177,443h2v1h-2zM167,444h10v1h-10zM129,446h2v1h-2zM163,446h3v1h-3zM131,447h2v1h-2zM159,448h3v1h-3zM134,449h2v1h-2zM136,450h2v1h-2zM155,450h3v1h-3zM138,451h2v1h-2zM140,452h3v1h-3zM149,452h5v1h-5zM143,453h6v1h-6zM7,483h2v1h-2zM3,485h3v1h-3zM0,487h2v1h-2zM972,521h2v1h-2zM984,532h3v1h-3zM987,533h3v1h-3zM1005,533h5v1h-5zM990,534h15v1h-15zM1011,535h3v1h-3zM1021,536h4v1h-4zM1015,537h6v1h-6zM1048,547h2v1h-2zM1051,549h3v1h-3zM1055,551h2v1h-2zM1271,578h2v1h-2zM1267,580h3v1h-3zM1261,582h5v1h-5zM1256,583h5v1h-5zM1254,584h2v1h-2zM1251,586h2v1h-2zM1249,587h2v1h-2zM1192,590h2v1h-2zM1214,590h3v1h-3zM1096,591h2v1h-2zM1190,591h2v1h-2zM1194,591h2v1h-2zM1211,591h3v1h-3zM1217,591h2v1h-2zM1098,592h2v1h-2zM1196,592h3v1h-3zM1205,592h6v1h-6zM1219,592h2v1h-2zM1100,593h3v1h-3zM1187,593h2v1h-2zM1199,593h6v1h-6zM1103,594h3v1h-3zM1185,594h2v1h-2zM1222,594h2v1h-2zM1224,595h2v1h-2zM1107,596h3v1h-3zM1226,596h2v1h-2zM1238,596h3v1h-3zM1228,597h3v1h-3zM1235,597h3v1h-3zM1111,598h2v1h-2zM1231,598h4v1h-4zM1175,603h2v1h-2zM1171,605h3v1h-3zM1168,607h2v1h-2zM1122,610h2v1h-2zM1125,612h2v1h-2zM1130,616h2v1h-2zM1157,617h2v1h-2zM1133,618h2v1h-2zM1154,619h2v1h-2zM1136,620h2v1h-2zM1151,621h2v1h-2zM1139,622h3v1h-3zM1148,622h3v1h-3zM1146,623h2v1h-2zM1143,624h3v1h-3zM2,486h1v1h-1zM6,484h1v1h-1zM9,482h1v1h-1zM10,481h1v1h-1zM11,480h1v1h-1zM12,478h1v2h-1zM13,477h1v1h-1zM14,476h1v1h-1zM15,475h1v1h-1zM16,473h1v2h-1zM17,470h1v3h-1zM18,467h1v3h-1zM19,464h1v3h-1zM20,461h1v3h-1zM21,458h1v3h-1zM22,455h1v3h-1zM23,452h1v3h-1zM24,450h1v2h-1zM25,448h1v2h-1zM26,446h1v2h-1zM27,444h1v2h-1zM28,443h1v1h-1zM29,441h1v2h-1zM30,439h1v2h-1zM31,437h1v2h-1zM34,435h1v1h-1zM38,433h1v1h-1zM49,429h1v1h-1zM50,428h1v1h-1zM51,427h1v1h-1zM52,425h1v2h-1zM53,424h1v1h-1zM54,423h1v1h-1zM55,422h1v1h-1zM112,422h1v1h-1zM113,423h1v2h-1zM114,425h1v2h-1zM115,427h1v2h-1zM116,429h1v2h-1zM117,431h1v2h-1zM118,433h1v2h-1zM119,435h1v2h-1zM120,437h1v2h-1zM121,439h1v1h-1zM122,440h1v1h-1zM123,441h1v1h-1zM126,443h1v1h-1zM127,444h1v1h-1zM128,445h1v1h-1zM133,448h1v1h-1zM154,451h1v1h-1zM158,449h1v1h-1zM162,447h1v1h-1zM166,445h1v1h-1zM181,441h1v1h-1zM186,438h1v1h-1zM190,436h1v1h-1zM209,428h1v1h-1zM212,426h1v1h-1zM215,424h1v1h-1zM216,423h1v1h-1zM217,422h1v1h-1zM220,420h1v1h-1zM223,418h1v1h-1zM224,416h1v2h-1zM225,414h1v2h-1zM226,412h1v2h-1zM227,410h1v2h-1zM228,408h1v2h-1zM229,406h1v2h-1zM230,404h1v2h-1zM231,402h1v2h-1zM232,400h1v2h-1zM233,399h1v1h-1zM234,398h1v1h-1zM235,397h1v1h-1zM236,396h1v1h-1zM237,395h1v1h-1zM238,394h1v1h-1zM239,393h1v1h-1zM240,392h1v1h-1zM241,391h1v1h-1zM242,389h1v2h-1zM243,388h1v1h-1zM244,387h1v1h-1zM245,386h1v1h-1zM246,384h1v2h-1zM247,383h1v1h-1zM248,382h1v1h-1zM249,381h1v1h-1zM250,380h1v1h-1zM251,379h1v1h-1zM252,377h1v2h-1zM253,376h1v1h-1zM254,375h1v1h-1zM255,374h1v1h-1zM256,373h1v1h-1zM257,371h1v2h-1zM258,370h1v1h-1zM259,368h1v2h-1zM260,367h1v1h-1zM261,365h1v2h-1zM262,364h1v1h-1zM263,362h1v2h-1zM264,360h1v2h-1zM265,358h1v2h-1zM266,355h1v3h-1zM267,353h1v2h-1zM268,350h1v3h-1zM269,348h1v2h-1zM270,345h1v3h-1zM271,343h1v2h-1zM272,342h1v1h-1zM282,337h1v1h-1zM286,335h1v1h-1zM297,330h1v1h-1zM300,328h1v1h-1zM303,326h1v1h-1zM306,324h1v1h-1zM310,322h1v1h-1zM313,319h1v2h-1zM314,318h1v1h-1zM315,317h1v1h-1zM316,315h1v2h-1zM317,314h1v1h-1zM318,313h1v1h-1zM319,311h1v2h-1zM329,309h1v2h-1zM330,311h1v1h-1zM331,312h1v1h-1zM332,313h1v2h-1zM333,315h1v1h-1zM334,316h1v1h-1zM335,317h1v2h-1zM336,319h1v1h-1zM337,320h1v1h-1zM338,321h1v2h-1zM339,323h1v1h-1zM340,324h1v1h-1zM341,325h1v1h-1zM342,326h1v2h-1zM343,328h1v1h-1zM344,329h1v1h-1zM345,330h1v2h-1zM346,332h1v1h-1zM347,333h1v1h-1zM348,334h1v2h-1zM349,336h1v1h-1zM350,337h1v1h-1zM351,338h1v2h-1zM352,340h1v1h-1zM353,341h1v2h-1zM354,343h1v2h-1zM355,345h1v2h-1zM356,347h1v2h-1zM357,349h1v2h-1zM358,351h1v2h-1zM359,353h1v2h-1zM417,352h1v1h-1zM420,354h1v1h-1zM423,356h1v1h-1zM424,357h1v1h-1zM425,358h1v1h-1zM426,359h1v1h-1zM427,360h1v1h-1zM430,362h1v1h-1zM431,363h1v1h-1zM466,364h1v1h-1zM470,362h1v1h-1zM481,358h1v1h-1zM484,356h1v1h-1zM487,354h1v1h-1zM488,353h1v1h-1zM489,351h1v2h-1zM490,349h1v2h-1zM491,347h1v2h-1zM492,345h1v2h-1zM493,343h1v2h-1zM494,341h1v2h-1zM495,339h1v2h-1zM496,337h1v2h-1zM497,335h1v2h-1zM498,333h1v2h-1zM499,331h1v2h-1zM500,328h1v3h-1zM501,326h1v2h-1zM502,324h1v2h-1zM503,322h1v2h-1zM504,319h1v3h-1zM505,316h1v3h-1zM506,313h1v3h-1zM507,310h1v3h-1zM508,308h1v2h-1zM509,305h1v3h-1zM510,302h1v3h-1zM511,299h1v3h-1zM512,295h1v4h-1zM513,290h1v5h-1zM514,286h1v4h-1zM515,281h1v5h-1zM516,276h1v5h-1zM517,271h1v5h-1zM518,267h1v4h-1zM519,262h1v5h-1zM520,259h1v3h-1zM525,256h1v1h-1zM530,253h1v1h-1zM534,251h1v1h-1zM541,247h1v1h-1zM544,245h1v1h-1zM545,244h1v1h-1zM546,243h1v1h-1zM547,242h1v1h-1zM548,241h1v1h-1zM549,240h1v1h-1zM550,239h1v1h-1zM551,238h1v1h-1zM552,236h1v2h-1zM553,234h1v2h-1zM554,232h1v2h-1zM555,229h1v3h-1zM556,227h1v2h-1zM557,224h1v3h-1zM558,222h1v2h-1zM559,220h1v2h-1zM560,218h1v2h-1zM561,216h1v2h-1zM562,214h1v2h-1zM563,212h1v2h-1zM564,211h1v1h-1zM565,209h1v2h-1zM566,207h1v2h-1zM567,205h1v2h-1zM568,204h1v1h-1zM573,207h1v1h-1zM586,213h1v1h-1zM590,215h1v1h-1zM625,212h1v1h-1zM628,210h1v1h-1zM631,208h1v1h-1zM632,207h1v1h-1zM633,206h1v1h-1zM634,205h1v1h-1zM635,204h1v1h-1zM636,203h1v1h-1zM637,202h1v1h-1zM638,201h1v1h-1zM639,200h1v1h-1zM640,199h1v1h-1zM645,196h1v1h-1zM650,193h1v1h-1zM654,191h1v1h-1zM665,186h1v2h-1zM666,185h1v1h-1zM667,184h1v1h-1zM668,182h1v2h-1zM669,181h1v1h-1zM670,180h1v1h-1zM671,178h1v2h-1zM681,175h1v1h-1zM684,177h1v1h-1zM687,179h1v1h-1zM697,184h1v1h-1zM700,186h1v1h-1zM703,188h1v1h-1zM704,189h1v1h-1zM705,190h1v1h-1zM708,192h1v1h-1zM711,194h1v1h-1zM769,195h1v1h-1zM770,196h1v1h-1zM771,197h1v1h-1zM772,198h1v1h-1zM773,199h1v1h-1zM774,200h1v1h-1zM775,201h1v1h-1zM776,202h1v1h-1zM781,205h1v1h-1zM786,208h1v1h-1zM790,210h1v1h-1zM805,217h1v1h-1zM808,219h1v1h-1zM809,220h1v1h-1zM810,221h1v1h-1zM811,222h1v1h-1zM814,224h1v1h-1zM815,225h1v1h-1zM816,226h1v2h-1zM817,228h1v2h-1zM818,230h1v2h-1zM819,232h1v2h-1zM820,234h1v3h-1zM821,237h1v2h-1zM822,239h1v2h-1zM823,241h1v2h-1zM824,243h1v2h-1zM825,245h1v2h-1zM826,247h1v1h-1zM827,248h1v1h-1zM828,249h1v2h-1zM829,251h1v1h-1zM830,252h1v1h-1zM831,253h1v2h-1zM832,255h1v1h-1zM833,256h1v2h-1zM834,258h1v1h-1zM835,259h1v1h-1zM836,260h1v2h-1zM837,262h1v1h-1zM838,263h1v1h-1zM839,264h1v2h-1zM840,266h1v1h-1zM841,267h1v2h-1zM842,269h1v1h-1zM843,270h1v1h-1zM844,271h1v2h-1zM845,273h1v1h-1zM846,274h1v1h-1zM847,275h1v2h-1zM848,277h1v2h-1zM849,279h1v3h-1zM850,282h1v3h-1zM851,285h1v3h-1zM852,288h1v3h-1zM853,291h1v3h-1zM854,294h1v3h-1zM855,297h1v3h-1zM856,300h1v2h-1zM857,302h1v1h-1zM858,303h1v1h-1zM859,304h1v1h-1zM860,305h1v1h-1zM861,306h1v1h-1zM862,307h1v1h-1zM863,308h1v1h-1zM873,312h1v2h-1zM874,314h1v1h-1zM875,315h1v2h-1zM876,317h1v1h-1zM877,318h1v2h-1zM878,320h1v1h-1zM879,321h1v2h-1zM880,323h1v1h-1zM881,324h1v2h-1zM882,326h1v1h-1zM883,327h1v1h-1zM884,328h1v2h-1zM885,330h1v1h-1zM886,331h1v1h-1zM887,332h1v2h-1zM890,335h1v1h-1zM894,337h1v1h-1zM897,339h1v1h-1zM900,341h1v1h-1zM903,343h1v1h-1zM904,344h1v3h-1zM905,347h1v3h-1zM906,350h1v5h-1zM907,355h1v3h-1zM908,358h1v5h-1zM909,363h1v3h-1zM910,366h1v5h-1zM911,371h1v3h-1zM912,374h1v5h-1zM913,379h1v4h-1zM914,383h1v4h-1zM915,387h1v4h-1zM916,391h1v4h-1zM917,395h1v4h-1zM918,399h1v4h-1zM919,403h1v4h-1zM920,407h1v4h-1zM921,411h1v2h-1zM922,413h1v3h-1zM923,416h1v2h-1zM924,418h1v3h-1zM925,421h1v2h-1zM926,423h1v3h-1zM927,426h1v2h-1zM928,428h1v3h-1zM929,431h1v3h-1zM930,434h1v3h-1zM931,437h1v3h-1zM932,440h1v2h-1zM933,442h1v3h-1zM934,445h1v3h-1zM935,448h1v3h-1zM936,451h1v3h-1zM937,454h1v3h-1zM938,457h1v3h-1zM939,460h1v3h-1zM940,463h1v4h-1zM941,467h1v3h-1zM942,470h1v3h-1zM943,473h1v3h-1zM944,476h1v3h-1zM945,479h1v2h-1zM946,481h1v2h-1zM947,483h1v2h-1zM948,485h1v3h-1zM949,488h1v2h-1zM950,490h1v2h-1zM951,492h1v2h-1zM952,494h1v2h-1zM953,496h1v2h-1zM954,498h1v1h-1zM955,499h1v2h-1zM956,501h1v1h-1zM957,502h1v2h-1zM958,504h1v1h-1zM959,505h1v2h-1zM960,507h1v1h-1zM961,508h1v1h-1zM962,509h1v2h-1zM963,511h1v1h-1zM964,512h1v1h-1zM965,513h1v1h-1zM966,514h1v2h-1zM967,516h1v1h-1zM968,517h1v1h-1zM969,518h1v1h-1zM970,519h1v1h-1zM971,520h1v1h-1zM974,522h1v1h-1zM975,523h1v1h-1zM976,524h1v1h-1zM977,525h1v1h-1zM978,526h1v1h-1zM979,527h1v1h-1zM980,528h1v1h-1zM981,529h1v1h-1zM982,530h1v1h-1zM983,531h1v1h-1zM1010,534h1v1h-1zM1014,536h1v1h-1zM1025,534h1v2h-1zM1026,532h1v2h-1zM1027,531h1v1h-1zM1028,529h1v2h-1zM1029,528h1v1h-1zM1030,526h1v2h-1zM1031,524h1v2h-1zM1032,523h1v1h-1zM1033,524h1v1h-1zM1034,525h1v1h-1zM1035,526h1v1h-1zM1036,527h1v2h-1zM1037,529h1v1h-1zM1038,530h1v1h-1zM1039,531h1v1h-1zM1040,532h1v1h-1zM1041,533h1v2h-1zM1042,535h1v2h-1zM1043,537h1v2h-1zM1044,539h1v2h-1zM1045,541h1v2h-1zM1046,543h1v2h-1zM1047,545h1v2h-1zM1050,548h1v1h-1zM1054,550h1v1h-1zM1057,549h1v2h-1zM1058,548h1v1h-1zM1059,547h1v1h-1zM1060,545h1v2h-1zM1061,544h1v1h-1zM1062,543h1v1h-1zM1063,541h1v2h-1zM1064,540h1v1h-1zM1065,541h1v1h-1zM1066,542h1v2h-1zM1067,544h1v1h-1zM1068,545h1v1h-1zM1069,546h1v1h-1zM1070,547h1v2h-1zM1071,549h1v1h-1zM1072,550h1v2h-1zM1073,552h1v1h-1zM1074,553h1v3h-1zM1075,556h1v1h-1zM1076,557h1v3h-1zM1077,560h1v1h-1zM1078,561h1v3h-1zM1079,564h1v1h-1zM1080,565h1v3h-1zM1081,568h1v1h-1zM1082,569h1v3h-1zM1083,572h1v1h-1zM1084,573h1v3h-1zM1085,576h1v1h-1zM1086,577h1v3h-1zM1087,580h1v1h-1zM1088,581h1v2h-1zM1089,583h1v1h-1zM1090,584h1v1h-1zM1091,585h1v1h-1zM1092,586h1v2h-1zM1093,588h1v1h-1zM1094,589h1v1h-1zM1095,590h1v1h-1zM1106,595h1v1h-1zM1110,597h1v1h-1zM1113,599h1v1h-1zM1114,600h1v2h-1zM1115,602h1v1h-1zM1116,603h1v1h-1zM1117,604h1v1h-1zM1118,605h1v2h-1zM1119,607h1v1h-1zM1120,608h1v1h-1zM1121,609h1v1h-1zM1124,611h1v1h-1zM1127,613h1v1h-1zM1128,614h1v1h-1zM1129,615h1v1h-1zM1132,617h1v1h-1zM1135,619h1v1h-1zM1138,621h1v1h-1zM1142,623h1v1h-1zM1153,620h1v1h-1zM1156,618h1v1h-1zM1159,616h1v1h-1zM1160,615h1v1h-1zM1161,614h1v1h-1zM1162,613h1v1h-1zM1163,612h1v1h-1zM1164,611h1v1h-1zM1165,610h1v1h-1zM1166,609h1v1h-1zM1167,608h1v1h-1zM1170,606h1v1h-1zM1174,604h1v1h-1zM1177,602h1v1h-1zM1178,601h1v1h-1zM1179,600h1v1h-1zM1180,599h1v1h-1zM1181,598h1v1h-1zM1182,597h1v1h-1zM1183,596h1v1h-1zM1184,595h1v1h-1zM1189,592h1v1h-1zM1221,593h1v1h-1zM1241,595h1v1h-1zM1242,594h1v1h-1zM1243,593h1v1h-1zM1244,592h1v1h-1zM1245,591h1v1h-1zM1246,590h1v1h-1zM1247,589h1v1h-1zM1248,588h1v1h-1zM1253,585h1v1h-1zM1266,581h1v1h-1zM1270,579h1v1h-1zM1273,576h1v2h-1zM1274,574h1v2h-1zM1275,573h1v1h-1zM1276,571h1v2h-1zM1277,570h1v1h-1zM1278,568h1v2h-1zM1279,566h1v2h-1zM1280,565h1v1h-1z" fill="#3cb371" shape-rendering="crispEdges"/>
<g shape-rendering="crispEdges">
<rect x="0" y="357" width="1620" height="1" fill="#000"/>
<rect x="0" y="293" width="1620" height="2" fill="#ff0000"/>
<rect x="0" y="322" width="1620" height="2" fill="#ff0000"/>
<rect x="0" y="373" width="1620" height="2" fill="#ff8c00"/>
<rect x="0" y="411" width="1620" height="2" fill="#0000ff"/>
<rect x="0" y="442" width="1620" height="2" fill="#0000ff"/>
</g>
<line x1="1134.6" y1="560.8" x2="1298" y2="358.5" stroke="#e81c24" stroke-width="3.1"/>
<polygon points="1307.6,345.8 1289.7,354.2 1303.6,364.8" fill="#e81c24"/>
</g>
<g shape-rendering="crispEdges">
<rect x="1621" y="35" width="2" height="1" fill="#000"/>
<rect x="1621" y="68" width="2" height="1" fill="#000"/>
<rect x="1621" y="101" width="2" height="1" fill="#000"/>
<rect x="1621" y="134" width="2" height="1" fill="#000"/>
<rect x="1621" y="167" width="2" height="1" fill="#000"/>
<rect x="1621" y="200" width="2" height="1" fill="#000"/>
<rect x="1621" y="233" width="2" height="1" fill="#000"/>
<rect x="1621" y="266" width="2" height="1" fill="#000"/>
<rect x="1621" y="299" width="2" height="1" fill="#000"/>
<rect x="1621" y="332" width="2" height="1" fill="#000"/>
<rect x="1621" y="365" width="2" height="1" fill="#000"/>
<rect x="1621" y="398" width="2" height="1" fill="#000"/>
<rect x="1621" y="431" width="2" height="1" fill="#000"/>
<rect x="1621" y="464" width="2" height="1" fill="#000"/>
<rect x="1621" y="497" width="2" height="1" fill="#000"/>
<rect x="1621" y="530" width="2" height="1" fill="#000"/>
<rect x="1621" y="563" width="2" height="1" fill="#000"/>
<rect x="1621" y="596" width="2" height="1" fill="#000"/>
<rect x="1621" y="629" width="2" height="1" fill="#000"/>
</g>
<text x="1625.22 1630.22 1635.22 1640.61 1643.22 1648.22 1653.22" y="39" font-size="10" fill="#000" stroke="#000" stroke-width="0.25" xml:space="preserve">124.550</text>
<text x="1625.22 1630.22 1635.22 1640.61 1643.22 1648.22 1653.22" y="72" font-size="10" fill="#000" stroke="#000" stroke-width="0.25" xml:space="preserve">123.255</text>
<text x="1625.22 1630.22 1635.22 1640.61 1643.22 1648.22 1653.22" y="105" font-size="10" fill="#000" stroke="#000" stroke-width="0.25" xml:space="preserve">121.960</text>
<text x="1625.22 1630.22 1635.22 1640.61 1643.22 1648.22 1653.22" y="138" font-size="10" fill="#000" stroke="#000" stroke-width="0.25" xml:space="preserve">120.630</text>
<text x="1625.22 1630.22 1635.22 1640.61 1643.22 1648.22 1653.22" y="171" font-size="10" fill="#000" stroke="#000" stroke-width="0.25" xml:space="preserve">119.335</text>
<text x="1625.22 1630.22 1635.22 1640.61 1643.22 1648.22 1653.22" y="204" font-size="10" fill="#000" stroke="#000" stroke-width="0.25" xml:space="preserve">118.040</text>
<text x="1625.22 1630.22 1635.22 1640.61 1643.22 1648.22 1653.22" y="237" font-size="10" fill="#000" stroke="#000" stroke-width="0.25" xml:space="preserve">116.710</text>
<text x="1625.22 1630.22 1635.22 1640.61 1643.22 1648.22 1653.22" y="270" font-size="10" fill="#000" stroke="#000" stroke-width="0.25" xml:space="preserve">115.415</text>
<text x="1625.22 1630.22 1635.22 1640.61 1643.22 1648.22 1653.22" y="303" font-size="10" fill="#000" stroke="#000" stroke-width="0.25" xml:space="preserve">114.120</text>
<text x="1625.22 1630.22 1635.22 1640.61 1643.22 1648.22 1653.22" y="336" font-size="10" fill="#000" stroke="#000" stroke-width="0.25" xml:space="preserve">112.825</text>
<text x="1625.22 1630.22 1635.22 1640.61 1643.22 1648.22 1653.22" y="369" font-size="10" fill="#000" stroke="#000" stroke-width="0.25" xml:space="preserve">111.495</text>
<text x="1625.22 1630.22 1635.22 1640.61 1643.22 1648.22 1653.22" y="402" font-size="10" fill="#000" stroke="#000" stroke-width="0.25" xml:space="preserve">110.200</text>
<text x="1625.22 1630.22 1635.22 1640.61 1643.22 1648.22 1653.22" y="435" font-size="10" fill="#000" stroke="#000" stroke-width="0.25" xml:space="preserve">108.905</text>
<text x="1625.22 1630.22 1635.22 1640.61 1643.22 1648.22 1653.22" y="468" font-size="10" fill="#000" stroke="#000" stroke-width="0.25" xml:space="preserve">107.575</text>
<text x="1625.22 1630.22 1635.22 1640.61 1643.22 1648.22 1653.22" y="501" font-size="10" fill="#000" stroke="#000" stroke-width="0.25" xml:space="preserve">106.280</text>
<text x="1625.22 1630.22 1635.22 1640.61 1643.22 1648.22 1653.22" y="534" font-size="10" fill="#000" stroke="#000" stroke-width="0.25" xml:space="preserve">104.985</text>
<text x="1625.22 1630.22 1635.22 1640.61 1643.22 1648.22 1653.22" y="567" font-size="10" fill="#000" stroke="#000" stroke-width="0.25" xml:space="preserve">103.655</text>
<text x="1625.22 1630.22 1635.22 1640.61 1643.22 1648.22 1653.22" y="600" font-size="10" fill="#000" stroke="#000" stroke-width="0.25" xml:space="preserve">102.360</text>
<text x="1625.22 1630.22 1635.22 1640.61 1643.22 1648.22 1653.22" y="633" font-size="10" fill="#000" stroke="#000" stroke-width="0.25" xml:space="preserve">101.065</text>
<g shape-rendering="crispEdges"><rect x="1614" y="291" width="6" height="6" fill="#ff0000"/><rect x="1616" y="293" width="2" height="2" fill="#fff"/><rect x="1622" y="288" width="41" height="11" fill="#ff0000"/></g><text x="1625.22 1630.22 1635.22 1640.61 1643.22 1648.22 1653.22" y="297" font-size="10" fill="#fff" stroke="#fff" stroke-width="0.25" xml:space="preserve">114.312</text>
<g shape-rendering="crispEdges"><rect x="1614" y="320" width="6" height="6" fill="#ff0000"/><rect x="1616" y="322" width="2" height="2" fill="#fff"/><rect x="1622" y="317" width="41" height="11" fill="#ff0000"/></g><text x="1625.22 1630.22 1635.22 1640.61 1643.22 1648.22 1653.22" y="326" font-size="10" fill="#fff" stroke="#fff" stroke-width="0.25" xml:space="preserve">113.166</text>
<g shape-rendering="crispEdges"><rect x="1622" y="352" width="41" height="11" fill="#000000"/></g><text x="1625.22 1630.22 1635.22 1640.61 1643.22 1648.22 1653.22" y="361" font-size="10" fill="#fff" stroke="#fff" stroke-width="0.25" xml:space="preserve">111.832</text>
<g shape-rendering="crispEdges"><rect x="1614" y="371" width="6" height="6" fill="#ff8c00"/><rect x="1616" y="373" width="2" height="2" fill="#fff"/><rect x="1622" y="368" width="41" height="11" fill="#ff8c00"/></g><text x="1625.22 1630.22 1635.22 1640.61 1643.22 1648.22 1653.22" y="377" font-size="10" fill="#fff" stroke="#fff" stroke-width="0.25" xml:space="preserve">111.151</text>
<g shape-rendering="crispEdges"><rect x="1614" y="409" width="6" height="6" fill="#0000ff"/><rect x="1616" y="411" width="2" height="2" fill="#fff"/><rect x="1622" y="406" width="41" height="11" fill="#0000ff"/></g><text x="1625.22 1630.22 1635.22 1640.61 1643.22 1648.22 1653.22" y="415" font-size="10" fill="#fff" stroke="#fff" stroke-width="0.25" xml:space="preserve">109.650</text>
<g shape-rendering="crispEdges"><rect x="1622" y="437" width="41" height="11" fill="#0000ff"/></g><text x="1625.22 1630.22 1635.22 1640.61 1643.22 1648.22 1653.22" y="446" font-size="10" fill="#fff" stroke="#fff" stroke-width="0.25" xml:space="preserve">108.426</text>
<polygon points="-2,36 2.5,36 0.2,38.7" fill="#000"/>
<text x="6.89 13.66 19.61 26.89 28.89 31.34 35.11 37.89 44.72 50.11 53.11 55.72 60.72 65.72 71.11 73.72 78.72 83.72 89.11 91.72 96.72 101.72 107.11 109.72 114.72 119.72 125.11 127.72 132.72 137.72 143.11 145.72 150.72 155.72 161.11 163.72 168.72 173.72 179.11 181.72 186.72 191.72" y="41" font-size="10" fill="#000" stroke="#000" stroke-width="0.25" xml:space="preserve">USOil-,H4  111.659 112.137 111.575 111.832</text>
<polygon points="1287.6,30 1297.4,30 1292.5,35.1" fill="#000"/>
<defs><clipPath id="c2"><rect x="0" y="635" width="1620" height="155"/></clipPath></defs>
<g clip-path="url(#c2)">
<g shape-rendering="crispEdges">
<rect x="-1" y="694" width="3" height="3" fill="#00ff00"/>
<rect x="7" y="695" width="3" height="2" fill="#00ff00"/>
<rect x="15" y="694" width="3" height="3" fill="#00ff00"/>
<rect x="23" y="695" width="3" height="2" fill="#00ff00"/>
<rect x="31" y="695" width="3" height="2" fill="#00ff00"/>
<rect x="39" y="694" width="3" height="3" fill="#00ff00"/>
<rect x="47" y="693" width="3" height="4" fill="#00ff00"/>
<rect x="55" y="691" width="3" height="6" fill="#00ff00"/>
<rect x="63" y="690" width="3" height="7" fill="#00ff00"/>
<rect x="71" y="695" width="3" height="2" fill="#00ff00"/>
<rect x="79" y="695" width="3" height="2" fill="#00ff00"/>
<rect x="87" y="694" width="3" height="3" fill="#00ff00"/>
<rect x="95" y="691" width="3" height="6" fill="#00ff00"/>
<rect x="103" y="690" width="3" height="7" fill="#00ff00"/>
<rect x="111" y="689" width="3" height="8" fill="#00ff00"/>
<rect x="119" y="681" width="3" height="16" fill="#00ff00"/>
<rect x="127" y="676" width="3" height="21" fill="#00ff00"/>
<rect x="135" y="672" width="3" height="25" fill="#00ff00"/>
<rect x="143" y="668" width="3" height="29" fill="#00ff00"/>
<rect x="151" y="666" width="3" height="31" fill="#00ff00"/>
<rect x="159" y="666" width="3" height="31" fill="#00ff00"/>
<rect x="167" y="664" width="3" height="33" fill="#00ff00"/>
<rect x="175" y="662" width="3" height="35" fill="#00ff00"/>
<rect x="183" y="660" width="3" height="37" fill="#00ff00"/>
<rect x="191" y="658" width="3" height="39" fill="#00ff00"/>
<rect x="199" y="656" width="3" height="41" fill="#00ff00"/>
<rect x="207" y="655" width="3" height="42" fill="#00ff00"/>
<rect x="215" y="655" width="3" height="42" fill="#00ff00"/>
<rect x="223" y="654" width="3" height="43" fill="#00ff00"/>
<rect x="231" y="654" width="3" height="43" fill="#00ff00"/>
<rect x="239" y="651" width="3" height="46" fill="#00ff00"/>
<rect x="247" y="648" width="3" height="49" fill="#00ff00"/>
<rect x="255" y="644" width="3" height="53" fill="#00ff00"/>
<rect x="263" y="642" width="3" height="55" fill="#00ff00"/>
<rect x="271" y="646" width="3" height="51" fill="#00ff00"/>
<rect x="279" y="654" width="3" height="43" fill="#00ff00"/>
<rect x="287" y="661" width="3" height="36" fill="#00ff00"/>
<rect x="295" y="666" width="3" height="31" fill="#00ff00"/>
<rect x="303" y="667" width="3" height="30" fill="#00ff00"/>
<rect x="311" y="672" width="3" height="25" fill="#00ff00"/>
<rect x="319" y="673" width="3" height="24" fill="#00ff00"/>
<rect x="327" y="678" width="3" height="19" fill="#00ff00"/>
<rect x="335" y="686" width="3" height="11" fill="#00ff00"/>
<rect x="343" y="693" width="3" height="4" fill="#00ff00"/>
<rect x="351" y="697" width="3" height="2" fill="#00ff00"/>
<rect x="359" y="697" width="3" height="8" fill="#00ff00"/>
<rect x="367" y="697" width="3" height="1" fill="#00ff00"/>
<rect x="375" y="692" width="3" height="5" fill="#00ff00"/>
<rect x="383" y="687" width="3" height="10" fill="#00ff00"/>
<rect x="391" y="685" width="3" height="12" fill="#00ff00"/>
<rect x="399" y="686" width="3" height="11" fill="#00ff00"/>
<rect x="407" y="685" width="3" height="12" fill="#00ff00"/>
<rect x="415" y="679" width="3" height="18" fill="#00ff00"/>
<rect x="423" y="671" width="3" height="26" fill="#00ff00"/>
<rect x="431" y="664" width="3" height="33" fill="#00ff00"/>
<rect x="439" y="659" width="3" height="38" fill="#00ff00"/>
<rect x="447" y="657" width="3" height="40" fill="#00ff00"/>
<rect x="455" y="657" width="3" height="40" fill="#00ff00"/>
<rect x="463" y="658" width="3" height="39" fill="#00ff00"/>
<rect x="471" y="660" width="3" height="37" fill="#00ff00"/>
<rect x="479" y="663" width="3" height="34" fill="#00ff00"/>
<rect x="487" y="665" width="3" height="32" fill="#00ff00"/>
<rect x="495" y="665" width="3" height="32" fill="#00ff00"/>
<rect x="503" y="666" width="3" height="31" fill="#00ff00"/>
<rect x="511" y="670" width="3" height="27" fill="#00ff00"/>
<rect x="519" y="670" width="3" height="27" fill="#00ff00"/>
<rect x="527" y="669" width="3" height="28" fill="#00ff00"/>
<rect x="535" y="669" width="3" height="28" fill="#00ff00"/>
<rect x="543" y="670" width="3" height="27" fill="#00ff00"/>
<rect x="551" y="669" width="3" height="28" fill="#00ff00"/>
<rect x="559" y="668" width="3" height="29" fill="#00ff00"/>
<rect x="567" y="665" width="3" height="32" fill="#00ff00"/>
<rect x="575" y="660" width="3" height="37" fill="#00ff00"/>
<rect x="583" y="659" width="3" height="38" fill="#00ff00"/>
<rect x="591" y="657" width="3" height="40" fill="#00ff00"/>
<rect x="599" y="658" width="3" height="39" fill="#00ff00"/>
<rect x="607" y="659" width="3" height="38" fill="#00ff00"/>
<rect x="615" y="660" width="3" height="37" fill="#00ff00"/>
<rect x="623" y="662" width="3" height="35" fill="#00ff00"/>
<rect x="631" y="665" width="3" height="32" fill="#00ff00"/>
<rect x="639" y="668" width="3" height="29" fill="#00ff00"/>
<rect x="647" y="671" width="3" height="26" fill="#00ff00"/>
<rect x="655" y="670" width="3" height="27" fill="#00ff00"/>
<rect x="663" y="677" width="3" height="20" fill="#00ff00"/>
<rect x="671" y="679" width="3" height="18" fill="#00ff00"/>
<rect x="679" y="682" width="3" height="15" fill="#00ff00"/>
<rect x="687" y="688" width="3" height="9" fill="#00ff00"/>
<rect x="695" y="693" width="3" height="4" fill="#00ff00"/>
<rect x="703" y="697" width="3" height="1" fill="#00ff00"/>
<rect x="711" y="697" width="3" height="4" fill="#00ff00"/>
<rect x="719" y="697" width="3" height="1" fill="#00ff00"/>
<rect x="727" y="694" width="3" height="3" fill="#00ff00"/>
<rect x="735" y="694" width="3" height="3" fill="#00ff00"/>
<rect x="743" y="693" width="3" height="4" fill="#00ff00"/>
<rect x="751" y="689" width="3" height="8" fill="#00ff00"/>
<rect x="759" y="688" width="3" height="9" fill="#00ff00"/>
<rect x="767" y="684" width="3" height="13" fill="#00ff00"/>
<rect x="775" y="691" width="3" height="6" fill="#00ff00"/>
<rect x="783" y="696" width="3" height="1" fill="#00ff00"/>
<rect x="791" y="697" width="3" height="2" fill="#00ff00"/>
<rect x="799" y="697" width="3" height="5" fill="#00ff00"/>
<rect x="807" y="697" width="3" height="8" fill="#00ff00"/>
<rect x="815" y="697" width="3" height="13" fill="#00ff00"/>
<rect x="823" y="697" width="3" height="21" fill="#00ff00"/>
<rect x="831" y="697" width="3" height="25" fill="#00ff00"/>
<rect x="839" y="697" width="3" height="28" fill="#00ff00"/>
<rect x="847" y="697" width="3" height="31" fill="#00ff00"/>
<rect x="855" y="697" width="3" height="39" fill="#00ff00"/>
<rect x="863" y="697" width="3" height="40" fill="#00ff00"/>
<rect x="871" y="697" width="3" height="35" fill="#00ff00"/>
<rect x="879" y="697" width="3" height="38" fill="#00ff00"/>
<rect x="887" y="697" width="3" height="41" fill="#00ff00"/>
<rect x="895" y="697" width="3" height="39" fill="#00ff00"/>
<rect x="903" y="697" width="3" height="39" fill="#00ff00"/>
<rect x="911" y="697" width="3" height="52" fill="#00ff00"/>
<rect x="919" y="697" width="3" height="64" fill="#00ff00"/>
<rect x="927" y="697" width="3" height="72" fill="#00ff00"/>
<rect x="935" y="697" width="3" height="77" fill="#00ff00"/>
<rect x="943" y="697" width="3" height="83" fill="#00ff00"/>
<rect x="951" y="697" width="3" height="85" fill="#00ff00"/>
<rect x="959" y="697" width="3" height="86" fill="#00ff00"/>
<rect x="967" y="697" width="3" height="85" fill="#00ff00"/>
<rect x="975" y="697" width="3" height="82" fill="#00ff00"/>
<rect x="983" y="697" width="3" height="79" fill="#00ff00"/>
<rect x="991" y="697" width="3" height="73" fill="#00ff00"/>
<rect x="999" y="697" width="3" height="67" fill="#00ff00"/>
<rect x="1007" y="697" width="3" height="61" fill="#00ff00"/>
<rect x="1015" y="697" width="3" height="59" fill="#00ff00"/>
<rect x="1023" y="697" width="3" height="56" fill="#00ff00"/>
<rect x="1031" y="697" width="3" height="53" fill="#00ff00"/>
<rect x="1039" y="697" width="3" height="59" fill="#00ff00"/>
<rect x="1047" y="697" width="3" height="66" fill="#00ff00"/>
<rect x="1055" y="697" width="3" height="72" fill="#00ff00"/>
<rect x="1063" y="697" width="3" height="71" fill="#00ff00"/>
<rect x="1071" y="697" width="3" height="71" fill="#00ff00"/>
<rect x="1079" y="697" width="3" height="74" fill="#00ff00"/>
<rect x="1087" y="697" width="3" height="76" fill="#00ff00"/>
<rect x="1095" y="697" width="3" height="74" fill="#00ff00"/>
<rect x="1103" y="697" width="3" height="68" fill="#00ff00"/>
<rect x="1111" y="697" width="3" height="64" fill="#00ff00"/>
<rect x="1119" y="697" width="3" height="64" fill="#00ff00"/>
<rect x="1127" y="697" width="3" height="62" fill="#00ff00"/>
<rect x="1135" y="697" width="3" height="60" fill="#00ff00"/>
<rect x="1143" y="697" width="3" height="57" fill="#00ff00"/>
<rect x="1151" y="697" width="3" height="51" fill="#00ff00"/>
<rect x="1159" y="697" width="3" height="42" fill="#00ff00"/>
<rect x="1167" y="697" width="3" height="33" fill="#00ff00"/>
<rect x="1175" y="697" width="3" height="27" fill="#00ff00"/>
<rect x="1183" y="697" width="3" height="24" fill="#00ff00"/>
<rect x="1191" y="697" width="3" height="19" fill="#00ff00"/>
<rect x="1199" y="697" width="3" height="13" fill="#00ff00"/>
<rect x="1207" y="697" width="3" height="9" fill="#00ff00"/>
<rect x="1215" y="697" width="3" height="3" fill="#00ff00"/>
<rect x="1223" y="693" width="3" height="4" fill="#00ff00"/>
<rect x="1231" y="687" width="3" height="10" fill="#00ff00"/>
<rect x="1239" y="681" width="3" height="16" fill="#00ff00"/>
<rect x="1247" y="677" width="3" height="20" fill="#00ff00"/>
<rect x="1255" y="672" width="3" height="25" fill="#00ff00"/>
<rect x="1263" y="670" width="3" height="27" fill="#00ff00"/>
<rect x="1271" y="667" width="3" height="30" fill="#00ff00"/>
<rect x="1279" y="664" width="3" height="33" fill="#00ff00"/>
</g>
<polyline points="0.5,692.4 8.5,692.4 16.5,692.3 24.5,692.3 32.5,692.4 40.5,692.8 48.5,693.2 56.5,693.3 64.5,693.3 72.5,693.4 80.5,693.4 88.5,693.4 96.5,692.9 104.5,692.4 112.5,691.8 120.5,690.5 128.5,688.8 136.5,686.8 144.5,683.9 152.5,680.7 160.5,677.6 168.5,674.7 176.5,671.6 184.5,668.4 192.5,665.9 200.5,663.7 208.5,661.8 216.5,660.4 224.5,659.1 232.5,657.7 240.5,656.3 248.5,654.8 256.5,653 264.5,651.2 272.5,650.1 280.5,650 288.5,650.6 296.5,652 304.5,653.5 312.5,655.7 320.5,658.4 328.5,662.2 336.5,667 344.5,672.2 352.5,677.1 360.5,682 368.5,685.6 376.5,688.4 384.5,690.1 392.5,691.4 400.5,692.4 408.5,692.3 416.5,690.8 424.5,687.7 432.5,683.2 440.5,678.9 448.5,675 456.5,671.6 464.5,668.6 472.5,665.7 480.5,663.3 488.5,661.6 496.5,661 504.5,661.2 512.5,662.4 520.5,663.8 528.5,665.1 536.5,666.3 544.5,667.4 552.5,668.1 560.5,668.5 568.5,668.5 576.5,667.8 584.5,666.6 592.5,665.2 600.5,664.1 608.5,662.9 616.5,661.8 624.5,661 632.5,660.6 640.5,661 648.5,662.2 656.5,663.5 664.5,665.6 672.5,668 680.5,670.6 688.5,673.7 696.5,677.1 704.5,680.7 712.5,684.3 720.5,687.1 728.5,689.8 736.5,691.7 744.5,693.2 752.5,694 760.5,693.9 768.5,693 776.5,692.3 784.5,691.8 792.5,692.1 800.5,692.9 808.5,694.2 816.5,696 824.5,699.2 832.5,703 840.5,707.5 848.5,711.6 856.5,716.1 864.5,720.2 872.5,723.6 880.5,727 888.5,730.1 896.5,732.2 904.5,733.8 912.5,736.5 920.5,740.1 928.5,743.8 936.5,747.9 944.5,753.2 952.5,758.5 960.5,763.4 968.5,768.5 976.5,773.3 984.5,776.3 992.5,777.3 1000.5,776.7 1008.5,775 1016.5,772.3 1024.5,769 1032.5,765.4 1040.5,762.5 1048.5,760.7 1056.5,760 1064.5,759.8 1072.5,760.2 1080.5,761.6 1088.5,763.5 1096.5,765.6 1104.5,767.2 1112.5,767.8 1120.5,767.6 1128.5,766.4 1136.5,765.2 1144.5,763.6 1152.5,761.1 1160.5,757.3 1168.5,752.8 1176.5,748.2 1184.5,743.7 1192.5,738.7 1200.5,733.3 1208.5,727.6 1216.5,721.5 1224.5,715.5 1232.5,709.8 1240.5,704.4 1248.5,699.1 1256.5,693.7 1264.5,688.7 1272.5,683.8 1280.5,679.2" fill="none" stroke="#ff0000" stroke-width="2" stroke-linejoin="round" shape-rendering="crispEdges"/>
</g>
<text x="-5.17 2.67 8.39 14.89 22.34 25.72 30.72 36.11 38.72 43.72 49.11 51.72 57.34 61.11 63.72 69.11 71.72 76.72 81.72 86.72 92.11 94.72 100.11 102.72 107.72 112.72 117.72" y="647" font-size="10" fill="#000" stroke="#000" stroke-width="0.25" xml:space="preserve">MACD(12,26,9) 1.0826 0.5852</text>
<text x="1623.72 1629.11 1631.72 1636.72 1641.72 1646.72" y="645" font-size="10" fill="#000" stroke="#000" stroke-width="0.25" xml:space="preserve">2.0298</text>
<text x="1623.72 1629.11 1631.72 1636.72" y="701" font-size="10" fill="#000" stroke="#000" stroke-width="0.25" xml:space="preserve">0.00</text>
<text x="1624.34 1627.72 1633.11 1635.72 1640.72 1645.72 1650.72" y="787" font-size="10" fill="#000" stroke="#000" stroke-width="0.25" xml:space="preserve">-3.0714</text>
<g shape-rendering="crispEdges" fill="#000"><rect x="1621" y="697" width="1" height="1"/><rect x="1621" y="636" width="1" height="1"/><rect x="1621" y="789" width="1" height="1"/><rect x="1621" y="794" width="1" height="1"/></g>
<g shape-rendering="crispEdges">
<line x1="0" y1="821.5" x2="1620" y2="821.5" stroke="#000" stroke-width="1" stroke-dasharray="3,3" stroke-dashoffset="1"/>
<line x1="0" y1="861.5" x2="1620" y2="861.5" stroke="#000" stroke-width="1" stroke-dasharray="3,3" stroke-dashoffset="1"/>
<line x1="0" y1="909.5" x2="1620" y2="909.5" stroke="#000" stroke-width="1" stroke-dasharray="3,3" stroke-dashoffset="1"/>
</g>
<polyline points="0.5,865.2 8.5,867.1 16.5,857.6 24.5,863.5 32.5,861.7 40.5,857.9 48.5,854.3 56.5,856.6 64.5,854.3 72.5,869 80.5,857.8 88.5,858.7 96.5,857 104.5,855.1 112.5,855.1 120.5,836.7 128.5,840.8 136.5,840.2 144.5,839.8 152.5,839.1 160.5,847.2 168.5,841.1 176.5,837.7 184.5,838.6 192.5,835.8 200.5,834 208.5,835 216.5,835.9 224.5,833.4 232.5,832.7 240.5,826.4 248.5,823.6 256.5,820.2 264.5,825.9 272.5,847.4 280.5,861.2 288.5,861.9 296.5,861.6 304.5,851.1 312.5,860.4 320.5,855.3 328.5,864.2 336.5,873.7 344.5,874.7 352.5,875.4 360.5,879.2 368.5,851.9 376.5,850.1 384.5,849.3 392.5,854.1 400.5,859.9 408.5,856.7 416.5,846.5 424.5,840.4 432.5,840.1 440.5,840.6 448.5,844.4 456.5,846 464.5,848.9 472.5,852.3 480.5,854.6 488.5,851.1 496.5,849.3 504.5,850.5 512.5,857.7 520.5,850.3 528.5,846.6 536.5,851.8 544.5,850.4 552.5,847.8 560.5,844.7 568.5,839 576.5,834.7 584.5,840.6 592.5,839.2 600.5,845.8 608.5,844.9 616.5,844.8 624.5,849.8 632.5,850.7 640.5,856.1 648.5,856.2 656.5,844.2 664.5,867.5 672.5,860.7 680.5,862.6 688.5,870.9 696.5,870.9 704.5,872.7 712.5,872.6 720.5,854 728.5,855.1 736.5,858.6 744.5,858.1 752.5,849.4 760.5,855.1 768.5,847.8 776.5,872.3 784.5,870.8 792.5,868.4 800.5,868.3 808.5,871.3 816.5,877.1 824.5,883.7 832.5,878.3 840.5,878.9 848.5,881.3 856.5,889.9 864.5,874.9 872.5,864.8 880.5,876.5 888.5,877.2 896.5,869.5 904.5,872.8 912.5,888.2 920.5,889.9 928.5,889.7 936.5,887.4 944.5,890.4 952.5,887.9 960.5,885.5 968.5,886 976.5,882.1 984.5,882.5 992.5,875.1 1000.5,873.8 1008.5,873.8 1016.5,878.2 1024.5,876.9 1032.5,878.5 1040.5,891.2 1048.5,895.1 1056.5,896.2 1064.5,881.9 1072.5,884 1080.5,888.5 1088.5,889.7 1096.5,883.2 1104.5,872.4 1112.5,875.7 1120.5,880.9 1128.5,877.8 1136.5,878.2 1144.5,877.3 1152.5,867.9 1160.5,859.6 1168.5,859.1 1176.5,859.6 1184.5,865.6 1192.5,859 1200.5,856.5 1208.5,856.5 1216.5,851.4 1224.5,847.7 1232.5,845.5 1240.5,843.1 1248.5,842.8 1256.5,840.4 1264.5,845.2 1272.5,840.6 1280.5,839.8" fill="none" stroke="#1e90ff" stroke-width="2" stroke-linejoin="round" shape-rendering="crispEdges"/>
<text x="-5.11 1.17 7.61 10.84 14.22 19.22 24.84 28.61 31.22 36.22 41.61 44.22 49.22 54.22 59.22" y="805" font-size="10" fill="#000" stroke="#000" stroke-width="0.25" xml:space="preserve">RSI(14) 66.4534</text>
<text x="1623.72 1628.72 1633.72" y="803" font-size="10" fill="#000" stroke="#000" stroke-width="0.25" xml:space="preserve">100</text>
<text x="1623.72 1628.72" y="825" font-size="10" fill="#000" stroke="#000" stroke-width="0.25" xml:space="preserve">80</text>
<text x="1623.72 1628.72" y="865" font-size="10" fill="#000" stroke="#000" stroke-width="0.25" xml:space="preserve">50</text>
<text x="1623.72 1628.72" y="913" font-size="10" fill="#000" stroke="#000" stroke-width="0.25" xml:space="preserve">15</text>
<text x="1623.72" y="927" font-size="10" fill="#000" stroke="#000" stroke-width="0.25" xml:space="preserve">0</text>
<g shape-rendering="crispEdges">
<rect x="56" y="931" width="1" height="3" fill="#000"/>
<rect x="120" y="931" width="1" height="3" fill="#000"/>
<rect x="184" y="931" width="1" height="3" fill="#000"/>
<rect x="248" y="931" width="1" height="3" fill="#000"/>
<rect x="312" y="931" width="1" height="3" fill="#000"/>
<rect x="376" y="931" width="1" height="3" fill="#000"/>
<rect x="440" y="931" width="1" height="3" fill="#000"/>
<rect x="504" y="931" width="1" height="3" fill="#000"/>
<rect x="568" y="931" width="1" height="3" fill="#000"/>
<rect x="632" y="931" width="1" height="3" fill="#000"/>
<rect x="696" y="931" width="1" height="3" fill="#000"/>
<rect x="760" y="931" width="1" height="3" fill="#000"/>
<rect x="824" y="931" width="1" height="3" fill="#000"/>
<rect x="888" y="931" width="1" height="3" fill="#000"/>
<rect x="952" y="931" width="1" height="3" fill="#000"/>
<rect x="1016" y="931" width="1" height="3" fill="#000"/>
<rect x="1080" y="931" width="1" height="3" fill="#000"/>
<rect x="1144" y="931" width="1" height="3" fill="#000"/>
<rect x="1208" y="931" width="1" height="3" fill="#000"/>
<rect x="1272" y="931" width="1" height="3" fill="#000"/>
</g>
<text x="-9.28 -4.28 1.11 3.83 11.72 17.00 22.11 24.72 29.72 34.72 39.72" y="943" font-size="10" fill="#000" stroke="#000" stroke-width="0.25" xml:space="preserve">23 May 2022</text>
<text x="54.72 59.72 65.11 67.83 75.72 81.00 86.11 88.72 93.72 99.11 101.72 106.72" y="943" font-size="10" fill="#000" stroke="#000" stroke-width="0.25" xml:space="preserve">25 May 04:00</text>
<text x="118.72 123.72 129.11 131.84 139.72 145.00 150.11 152.72 157.72 163.11 165.72 170.72" y="943" font-size="10" fill="#000" stroke="#000" stroke-width="0.25" xml:space="preserve">26 May 12:00</text>
<text x="182.72 187.72 193.11 195.84 203.72 209.00 214.11 216.72 221.72 227.11 229.72 234.72" y="943" font-size="10" fill="#000" stroke="#000" stroke-width="0.25" xml:space="preserve">27 May 20:00</text>
<text x="246.72 251.72 257.11 259.83 267.72 273.00 278.11 280.72 285.72 291.11 293.72 298.72" y="943" font-size="10" fill="#000" stroke="#000" stroke-width="0.25" xml:space="preserve">31 May 00:00</text>
<text x="310.72 316.11 318.50 322.72 327.72 333.11 335.72 340.72 346.11 348.72 353.72" y="943" font-size="10" fill="#000" stroke="#000" stroke-width="0.25" xml:space="preserve">1 Jun 08:00</text>
<text x="374.72 380.11 382.50 386.72 391.72 397.11 399.72 404.72 410.11 412.72 417.72" y="943" font-size="10" fill="#000" stroke="#000" stroke-width="0.25" xml:space="preserve">2 Jun 16:00</text>
<text x="438.72 444.11 446.50 450.72 455.72 461.11 463.72 468.72 474.11 476.72 481.72" y="943" font-size="10" fill="#000" stroke="#000" stroke-width="0.25" xml:space="preserve">5 Jun 23:00</text>
<text x="502.72 508.11 510.50 514.72 519.72 525.11 527.72 532.72 538.11 540.72 545.72" y="943" font-size="10" fill="#000" stroke="#000" stroke-width="0.25" xml:space="preserve">7 Jun 04:00</text>
<text x="566.72 572.11 574.50 578.72 583.72 589.11 591.72 596.72 602.11 604.72 609.72" y="943" font-size="10" fill="#000" stroke="#000" stroke-width="0.25" xml:space="preserve">8 Jun 12:00</text>
<text x="630.72 636.11 638.50 642.72 647.72 653.11 655.72 660.72 666.11 668.72 673.72" y="943" font-size="10" fill="#000" stroke="#000" stroke-width="0.25" xml:space="preserve">9 Jun 20:00</text>
<text x="694.72 699.72 705.11 707.50 711.72 716.72 722.11 724.72 729.72 735.11 737.72 742.72" y="943" font-size="10" fill="#000" stroke="#000" stroke-width="0.25" xml:space="preserve">13 Jun 00:00</text>
<text x="758.72 763.72 769.11 771.50 775.72 780.72 786.11 788.72 793.72 799.11 801.72 806.72" y="943" font-size="10" fill="#000" stroke="#000" stroke-width="0.25" xml:space="preserve">14 Jun 08:00</text>
<text x="822.72 827.72 833.11 835.50 839.72 844.72 850.11 852.72 857.72 863.11 865.72 870.72" y="943" font-size="10" fill="#000" stroke="#000" stroke-width="0.25" xml:space="preserve">15 Jun 16:00</text>
<text x="886.72 891.72 897.11 899.50 903.72 908.72 914.11 916.72 921.72 927.11 929.72 934.72" y="943" font-size="10" fill="#000" stroke="#000" stroke-width="0.25" xml:space="preserve">17 Jun 00:00</text>
<text x="950.72 955.72 961.11 963.50 967.72 972.72 978.11 980.72 985.72 991.11 993.72 998.72" y="943" font-size="10" fill="#000" stroke="#000" stroke-width="0.25" xml:space="preserve">20 Jun 04:00</text>
<text x="1014.72 1019.72 1025.11 1027.50 1031.72 1036.72 1042.11 1044.72 1049.72 1055.11 1057.72 1062.72" y="943" font-size="10" fill="#000" stroke="#000" stroke-width="0.25" xml:space="preserve">21 Jun 12:00</text>
<text x="1078.72 1083.72 1089.11 1091.50 1095.72 1100.72 1106.11 1108.72 1113.72 1119.11 1121.72 1126.72" y="943" font-size="10" fill="#000" stroke="#000" stroke-width="0.25" xml:space="preserve">22 Jun 20:00</text>
<text x="1142.72 1147.72 1153.11 1155.50 1159.72 1164.72 1170.11 1172.72 1177.72 1183.11 1185.72 1190.72" y="943" font-size="10" fill="#000" stroke="#000" stroke-width="0.25" xml:space="preserve">24 Jun 04:00</text>
<text x="1206.72 1211.72 1217.11 1219.50 1223.72 1228.72 1234.11 1236.72 1241.72 1247.11 1249.72 1254.72" y="943" font-size="10" fill="#000" stroke="#000" stroke-width="0.25" xml:space="preserve">27 Jun 08:00</text>
<text x="1270.72 1275.72 1281.11 1283.50 1287.72 1292.72 1298.11 1300.72 1305.72 1311.11 1313.72 1318.72" y="943" font-size="10" fill="#000" stroke="#000" stroke-width="0.25" xml:space="preserve">28 Jun 16:00</text>
</svg>
</body></html>
